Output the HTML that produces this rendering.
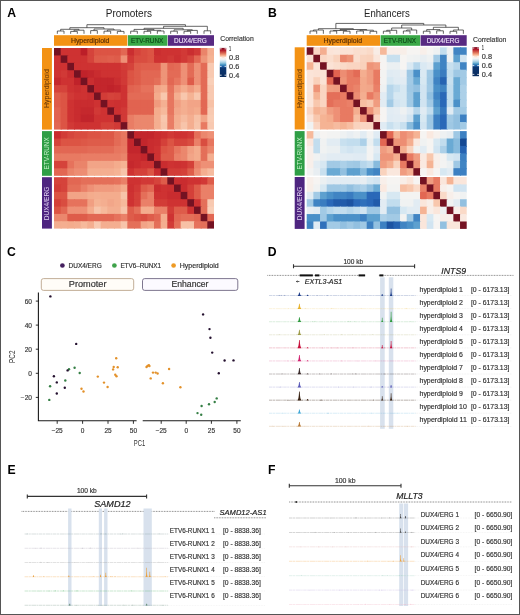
<!DOCTYPE html><html><head><meta charset="utf-8"><style>html,body{margin:0;padding:0;background:#fff;}svg{display:block;will-change:transform;}</style></head><body><svg width="520" height="615" viewBox="0 0 520 615" font-family='"Liberation Sans", sans-serif'>
<rect x="0" y="0" width="520" height="615" fill="#ffffff"/>
<rect x="54.00" y="35.2" width="73.30" height="10.6" fill="#F39214"/>
<rect x="127.90" y="35.2" width="39.50" height="10.6" fill="#3AA847"/>
<rect x="167.90" y="35.2" width="46.10" height="10.6" fill="#582A82"/>
<text x="70.90" y="43.20" font-size="7.4" fill="#5a2e04" textLength="38.50" lengthAdjust="spacingAndGlyphs" stroke="#5a2e04" stroke-width="0.18">Hyperdiploid</text>
<text x="131.10" y="43.30" font-size="7.3" fill="#0d4a18" textLength="32.20" lengthAdjust="spacingAndGlyphs" stroke="#0d4a18" stroke-width="0.18">ETV-RUNX</text>
<text x="174.00" y="43.20" font-size="7.3" fill="#e8dcf4" textLength="32.80" lengthAdjust="spacingAndGlyphs" stroke="#e8dcf4" stroke-width="0.18">DUX4/ERG</text>
<rect x="42.00" y="48.00" width="9.9" height="81.60" fill="#F39214"/>
<rect x="42.00" y="131.10" width="9.9" height="44.70" fill="#2f9e46"/>
<rect x="42.00" y="177.20" width="9.9" height="51.40" fill="#4e2580"/>
<text transform="translate(49.00,88.60) rotate(-90)" x="0" y="0" font-size="7.3" fill="#5a2e04" text-anchor="middle" textLength="38.80" lengthAdjust="spacingAndGlyphs">Hyperdiploid</text>
<text transform="translate(49.10,153.40) rotate(-90)" x="0" y="0" font-size="7.2" fill="#c4f0c8" text-anchor="middle" textLength="32.10" lengthAdjust="spacingAndGlyphs">ETV-RUNX</text>
<text transform="translate(48.80,203.50) rotate(-90)" x="0" y="0" font-size="7.2" fill="#e0d2f0" text-anchor="middle" textLength="33.50" lengthAdjust="spacingAndGlyphs">DUX4/ERG</text>
<g>
<rect x="54.00" y="48.00" width="7.67" height="8.42" fill="#741222"/>
<rect x="60.67" y="48.00" width="7.67" height="8.42" fill="#ce3232"/>
<rect x="67.33" y="48.00" width="7.67" height="8.42" fill="#ce3232"/>
<rect x="74.00" y="48.00" width="7.67" height="8.42" fill="#ce3232"/>
<rect x="80.67" y="48.00" width="7.67" height="8.42" fill="#bc1e28"/>
<rect x="87.33" y="48.00" width="7.67" height="8.42" fill="#d5433b"/>
<rect x="94.00" y="48.00" width="7.67" height="8.42" fill="#dc5444"/>
<rect x="100.67" y="48.00" width="7.67" height="8.42" fill="#dc5444"/>
<rect x="107.33" y="48.00" width="7.67" height="8.42" fill="#dc5444"/>
<rect x="114.00" y="48.00" width="7.67" height="8.42" fill="#dc5444"/>
<rect x="120.67" y="48.00" width="7.67" height="8.42" fill="#e26753"/>
<rect x="127.33" y="48.00" width="7.67" height="8.42" fill="#ca2e30"/>
<rect x="134.00" y="48.00" width="7.67" height="8.42" fill="#d5433b"/>
<rect x="140.67" y="48.00" width="7.67" height="8.42" fill="#d94d40"/>
<rect x="147.33" y="48.00" width="7.67" height="8.42" fill="#dc5444"/>
<rect x="154.00" y="48.00" width="7.67" height="8.42" fill="#ca2e30"/>
<rect x="160.67" y="48.00" width="7.67" height="8.42" fill="#ce3232"/>
<rect x="167.33" y="48.00" width="7.67" height="8.42" fill="#ce3232"/>
<rect x="174.00" y="48.00" width="7.67" height="8.42" fill="#ce3232"/>
<rect x="180.67" y="48.00" width="7.67" height="8.42" fill="#d13936"/>
<rect x="187.33" y="48.00" width="7.67" height="8.42" fill="#ca2e30"/>
<rect x="194.00" y="48.00" width="7.67" height="8.42" fill="#d13936"/>
<rect x="200.67" y="48.00" width="7.67" height="8.42" fill="#ea846a"/>
<rect x="207.33" y="48.00" width="6.67" height="8.42" fill="#f4ae90"/>
<rect x="54.00" y="55.42" width="7.67" height="8.42" fill="#ce3232"/>
<rect x="60.67" y="55.42" width="7.67" height="8.42" fill="#741222"/>
<rect x="67.33" y="55.42" width="7.67" height="8.42" fill="#ce3232"/>
<rect x="74.00" y="55.42" width="7.67" height="8.42" fill="#ce3232"/>
<rect x="80.67" y="55.42" width="7.67" height="8.42" fill="#ce3232"/>
<rect x="87.33" y="55.42" width="7.67" height="8.42" fill="#d5433b"/>
<rect x="94.00" y="55.42" width="7.67" height="8.42" fill="#de5c4a"/>
<rect x="100.67" y="55.42" width="7.67" height="8.42" fill="#de5c4a"/>
<rect x="107.33" y="55.42" width="7.67" height="8.42" fill="#e05f4d"/>
<rect x="114.00" y="55.42" width="7.67" height="8.42" fill="#de5c4a"/>
<rect x="120.67" y="55.42" width="7.67" height="8.42" fill="#ee9076"/>
<rect x="127.33" y="55.42" width="7.67" height="8.42" fill="#d13936"/>
<rect x="134.00" y="55.42" width="7.67" height="8.42" fill="#d94d40"/>
<rect x="140.67" y="55.42" width="7.67" height="8.42" fill="#d94d40"/>
<rect x="147.33" y="55.42" width="7.67" height="8.42" fill="#dc5444"/>
<rect x="154.00" y="55.42" width="7.67" height="8.42" fill="#ce3232"/>
<rect x="160.67" y="55.42" width="7.67" height="8.42" fill="#ce3232"/>
<rect x="167.33" y="55.42" width="7.67" height="8.42" fill="#d13936"/>
<rect x="174.00" y="55.42" width="7.67" height="8.42" fill="#cc3031"/>
<rect x="180.67" y="55.42" width="7.67" height="8.42" fill="#d13936"/>
<rect x="187.33" y="55.42" width="7.67" height="8.42" fill="#d6463d"/>
<rect x="194.00" y="55.42" width="7.67" height="8.42" fill="#e26753"/>
<rect x="200.67" y="55.42" width="7.67" height="8.42" fill="#ee9478"/>
<rect x="207.33" y="55.42" width="6.67" height="8.42" fill="#f5b394"/>
<rect x="54.00" y="62.84" width="7.67" height="8.42" fill="#ce3232"/>
<rect x="60.67" y="62.84" width="7.67" height="8.42" fill="#ce3232"/>
<rect x="67.33" y="62.84" width="7.67" height="8.42" fill="#741222"/>
<rect x="74.00" y="62.84" width="7.67" height="8.42" fill="#ce3232"/>
<rect x="80.67" y="62.84" width="7.67" height="8.42" fill="#ce3232"/>
<rect x="87.33" y="62.84" width="7.67" height="8.42" fill="#ce3232"/>
<rect x="94.00" y="62.84" width="7.67" height="8.42" fill="#ce3232"/>
<rect x="100.67" y="62.84" width="7.67" height="8.42" fill="#ce3232"/>
<rect x="107.33" y="62.84" width="7.67" height="8.42" fill="#ce3232"/>
<rect x="114.00" y="62.84" width="7.67" height="8.42" fill="#ce3232"/>
<rect x="120.67" y="62.84" width="7.67" height="8.42" fill="#d23c37"/>
<rect x="127.33" y="62.84" width="7.67" height="8.42" fill="#d5433b"/>
<rect x="134.00" y="62.84" width="7.67" height="8.42" fill="#de5c4a"/>
<rect x="140.67" y="62.84" width="7.67" height="8.42" fill="#e05f4d"/>
<rect x="147.33" y="62.84" width="7.67" height="8.42" fill="#e05f4d"/>
<rect x="154.00" y="62.84" width="7.67" height="8.42" fill="#e05f4d"/>
<rect x="160.67" y="62.84" width="7.67" height="8.42" fill="#ee9478"/>
<rect x="167.33" y="62.84" width="7.67" height="8.42" fill="#e26753"/>
<rect x="174.00" y="62.84" width="7.67" height="8.42" fill="#e36b56"/>
<rect x="180.67" y="62.84" width="7.67" height="8.42" fill="#ee9076"/>
<rect x="187.33" y="62.84" width="7.67" height="8.42" fill="#e36b56"/>
<rect x="194.00" y="62.84" width="7.67" height="8.42" fill="#ee9076"/>
<rect x="200.67" y="62.84" width="7.67" height="8.42" fill="#e36b56"/>
<rect x="207.33" y="62.84" width="6.67" height="8.42" fill="#f8c9b1"/>
<rect x="54.00" y="70.25" width="7.67" height="8.42" fill="#ce3232"/>
<rect x="60.67" y="70.25" width="7.67" height="8.42" fill="#d13936"/>
<rect x="67.33" y="70.25" width="7.67" height="8.42" fill="#c92c2f"/>
<rect x="74.00" y="70.25" width="7.67" height="8.42" fill="#741222"/>
<rect x="80.67" y="70.25" width="7.67" height="8.42" fill="#c0222a"/>
<rect x="87.33" y="70.25" width="7.67" height="8.42" fill="#c3262c"/>
<rect x="94.00" y="70.25" width="7.67" height="8.42" fill="#c92c2f"/>
<rect x="100.67" y="70.25" width="7.67" height="8.42" fill="#ce3232"/>
<rect x="107.33" y="70.25" width="7.67" height="8.42" fill="#ce3232"/>
<rect x="114.00" y="70.25" width="7.67" height="8.42" fill="#ce3232"/>
<rect x="120.67" y="70.25" width="7.67" height="8.42" fill="#d13936"/>
<rect x="127.33" y="70.25" width="7.67" height="8.42" fill="#dc5444"/>
<rect x="134.00" y="70.25" width="7.67" height="8.42" fill="#de5c4a"/>
<rect x="140.67" y="70.25" width="7.67" height="8.42" fill="#e26753"/>
<rect x="147.33" y="70.25" width="7.67" height="8.42" fill="#e26753"/>
<rect x="154.00" y="70.25" width="7.67" height="8.42" fill="#e26753"/>
<rect x="160.67" y="70.25" width="7.67" height="8.42" fill="#ee9478"/>
<rect x="167.33" y="70.25" width="7.67" height="8.42" fill="#e36b56"/>
<rect x="174.00" y="70.25" width="7.67" height="8.42" fill="#e36b56"/>
<rect x="180.67" y="70.25" width="7.67" height="8.42" fill="#ee9076"/>
<rect x="187.33" y="70.25" width="7.67" height="8.42" fill="#e36b56"/>
<rect x="194.00" y="70.25" width="7.67" height="8.42" fill="#ee9076"/>
<rect x="200.67" y="70.25" width="7.67" height="8.42" fill="#e36b56"/>
<rect x="207.33" y="70.25" width="6.67" height="8.42" fill="#f8c9b1"/>
<rect x="54.00" y="77.67" width="7.67" height="8.42" fill="#c5282d"/>
<rect x="60.67" y="77.67" width="7.67" height="8.42" fill="#ce3232"/>
<rect x="67.33" y="77.67" width="7.67" height="8.42" fill="#ce3232"/>
<rect x="74.00" y="77.67" width="7.67" height="8.42" fill="#c0222a"/>
<rect x="80.67" y="77.67" width="7.67" height="8.42" fill="#741222"/>
<rect x="87.33" y="77.67" width="7.67" height="8.42" fill="#ca2e30"/>
<rect x="94.00" y="77.67" width="7.67" height="8.42" fill="#c3262c"/>
<rect x="100.67" y="77.67" width="7.67" height="8.42" fill="#c3262c"/>
<rect x="107.33" y="77.67" width="7.67" height="8.42" fill="#c3262c"/>
<rect x="114.00" y="77.67" width="7.67" height="8.42" fill="#ca2e30"/>
<rect x="120.67" y="77.67" width="7.67" height="8.42" fill="#d13936"/>
<rect x="127.33" y="77.67" width="7.67" height="8.42" fill="#dc5444"/>
<rect x="134.00" y="77.67" width="7.67" height="8.42" fill="#de5c4a"/>
<rect x="140.67" y="77.67" width="7.67" height="8.42" fill="#e26753"/>
<rect x="147.33" y="77.67" width="7.67" height="8.42" fill="#e26753"/>
<rect x="154.00" y="77.67" width="7.67" height="8.42" fill="#e46f59"/>
<rect x="160.67" y="77.67" width="7.67" height="8.42" fill="#ee9478"/>
<rect x="167.33" y="77.67" width="7.67" height="8.42" fill="#e26753"/>
<rect x="174.00" y="77.67" width="7.67" height="8.42" fill="#e7765f"/>
<rect x="180.67" y="77.67" width="7.67" height="8.42" fill="#ee9076"/>
<rect x="187.33" y="77.67" width="7.67" height="8.42" fill="#de5c4a"/>
<rect x="194.00" y="77.67" width="7.67" height="8.42" fill="#ee9076"/>
<rect x="200.67" y="77.67" width="7.67" height="8.42" fill="#e36b56"/>
<rect x="207.33" y="77.67" width="6.67" height="8.42" fill="#f9cfb8"/>
<rect x="54.00" y="85.09" width="7.67" height="8.42" fill="#d5433b"/>
<rect x="60.67" y="85.09" width="7.67" height="8.42" fill="#d5433b"/>
<rect x="67.33" y="85.09" width="7.67" height="8.42" fill="#ce3232"/>
<rect x="74.00" y="85.09" width="7.67" height="8.42" fill="#ca2e30"/>
<rect x="80.67" y="85.09" width="7.67" height="8.42" fill="#ce3232"/>
<rect x="87.33" y="85.09" width="7.67" height="8.42" fill="#741222"/>
<rect x="94.00" y="85.09" width="7.67" height="8.42" fill="#c3262c"/>
<rect x="100.67" y="85.09" width="7.67" height="8.42" fill="#c3262c"/>
<rect x="107.33" y="85.09" width="7.67" height="8.42" fill="#c0222a"/>
<rect x="114.00" y="85.09" width="7.67" height="8.42" fill="#c3262c"/>
<rect x="120.67" y="85.09" width="7.67" height="8.42" fill="#ce3232"/>
<rect x="127.33" y="85.09" width="7.67" height="8.42" fill="#e16350"/>
<rect x="134.00" y="85.09" width="7.67" height="8.42" fill="#e26753"/>
<rect x="140.67" y="85.09" width="7.67" height="8.42" fill="#e6725c"/>
<rect x="147.33" y="85.09" width="7.67" height="8.42" fill="#e6725c"/>
<rect x="154.00" y="85.09" width="7.67" height="8.42" fill="#f2a487"/>
<rect x="160.67" y="85.09" width="7.67" height="8.42" fill="#f4ac8d"/>
<rect x="167.33" y="85.09" width="7.67" height="8.42" fill="#e6725c"/>
<rect x="174.00" y="85.09" width="7.67" height="8.42" fill="#f09a7e"/>
<rect x="180.67" y="85.09" width="7.67" height="8.42" fill="#f4ac8d"/>
<rect x="187.33" y="85.09" width="7.67" height="8.42" fill="#f09a7e"/>
<rect x="194.00" y="85.09" width="7.67" height="8.42" fill="#f4ac8d"/>
<rect x="200.67" y="85.09" width="7.67" height="8.42" fill="#e36b56"/>
<rect x="207.33" y="85.09" width="6.67" height="8.42" fill="#f8c9b1"/>
<rect x="54.00" y="92.51" width="7.67" height="8.42" fill="#de5c4a"/>
<rect x="60.67" y="92.51" width="7.67" height="8.42" fill="#dc5444"/>
<rect x="67.33" y="92.51" width="7.67" height="8.42" fill="#d13936"/>
<rect x="74.00" y="92.51" width="7.67" height="8.42" fill="#ce3232"/>
<rect x="80.67" y="92.51" width="7.67" height="8.42" fill="#ce3232"/>
<rect x="87.33" y="92.51" width="7.67" height="8.42" fill="#ca2e30"/>
<rect x="94.00" y="92.51" width="7.67" height="8.42" fill="#741222"/>
<rect x="100.67" y="92.51" width="7.67" height="8.42" fill="#d23c37"/>
<rect x="107.33" y="92.51" width="7.67" height="8.42" fill="#d5433b"/>
<rect x="114.00" y="92.51" width="7.67" height="8.42" fill="#d44039"/>
<rect x="120.67" y="92.51" width="7.67" height="8.42" fill="#ce3232"/>
<rect x="127.33" y="92.51" width="7.67" height="8.42" fill="#e36b56"/>
<rect x="134.00" y="92.51" width="7.67" height="8.42" fill="#e36b56"/>
<rect x="140.67" y="92.51" width="7.67" height="8.42" fill="#e36b56"/>
<rect x="147.33" y="92.51" width="7.67" height="8.42" fill="#e36b56"/>
<rect x="154.00" y="92.51" width="7.67" height="8.42" fill="#f4ac8d"/>
<rect x="160.67" y="92.51" width="7.67" height="8.42" fill="#f8c7ad"/>
<rect x="167.33" y="92.51" width="7.67" height="8.42" fill="#e7765f"/>
<rect x="174.00" y="92.51" width="7.67" height="8.42" fill="#f4ae90"/>
<rect x="180.67" y="92.51" width="7.67" height="8.42" fill="#f8c7ad"/>
<rect x="187.33" y="92.51" width="7.67" height="8.42" fill="#f5b394"/>
<rect x="194.00" y="92.51" width="7.67" height="8.42" fill="#f8c7ad"/>
<rect x="200.67" y="92.51" width="7.67" height="8.42" fill="#e36b56"/>
<rect x="207.33" y="92.51" width="6.67" height="8.42" fill="#f8c9b1"/>
<rect x="54.00" y="99.93" width="7.67" height="8.42" fill="#de5c4a"/>
<rect x="60.67" y="99.93" width="7.67" height="8.42" fill="#dc5444"/>
<rect x="67.33" y="99.93" width="7.67" height="8.42" fill="#ce3232"/>
<rect x="74.00" y="99.93" width="7.67" height="8.42" fill="#c92c2f"/>
<rect x="80.67" y="99.93" width="7.67" height="8.42" fill="#c92c2f"/>
<rect x="87.33" y="99.93" width="7.67" height="8.42" fill="#c92c2f"/>
<rect x="94.00" y="99.93" width="7.67" height="8.42" fill="#ce3232"/>
<rect x="100.67" y="99.93" width="7.67" height="8.42" fill="#741222"/>
<rect x="107.33" y="99.93" width="7.67" height="8.42" fill="#ce3232"/>
<rect x="114.00" y="99.93" width="7.67" height="8.42" fill="#cc3031"/>
<rect x="120.67" y="99.93" width="7.67" height="8.42" fill="#ce3232"/>
<rect x="127.33" y="99.93" width="7.67" height="8.42" fill="#e16350"/>
<rect x="134.00" y="99.93" width="7.67" height="8.42" fill="#e16350"/>
<rect x="140.67" y="99.93" width="7.67" height="8.42" fill="#e16350"/>
<rect x="147.33" y="99.93" width="7.67" height="8.42" fill="#e16350"/>
<rect x="154.00" y="99.93" width="7.67" height="8.42" fill="#f09a7e"/>
<rect x="160.67" y="99.93" width="7.67" height="8.42" fill="#f4b092"/>
<rect x="167.33" y="99.93" width="7.67" height="8.42" fill="#e7765f"/>
<rect x="174.00" y="99.93" width="7.67" height="8.42" fill="#f19f82"/>
<rect x="180.67" y="99.93" width="7.67" height="8.42" fill="#f4ae90"/>
<rect x="187.33" y="99.93" width="7.67" height="8.42" fill="#f2a487"/>
<rect x="194.00" y="99.93" width="7.67" height="8.42" fill="#f2a487"/>
<rect x="200.67" y="99.93" width="7.67" height="8.42" fill="#e26753"/>
<rect x="207.33" y="99.93" width="6.67" height="8.42" fill="#f7c1a6"/>
<rect x="54.00" y="107.35" width="7.67" height="8.42" fill="#e16350"/>
<rect x="60.67" y="107.35" width="7.67" height="8.42" fill="#dc5444"/>
<rect x="67.33" y="107.35" width="7.67" height="8.42" fill="#ce3232"/>
<rect x="74.00" y="107.35" width="7.67" height="8.42" fill="#c92c2f"/>
<rect x="80.67" y="107.35" width="7.67" height="8.42" fill="#c5282d"/>
<rect x="87.33" y="107.35" width="7.67" height="8.42" fill="#c5282d"/>
<rect x="94.00" y="107.35" width="7.67" height="8.42" fill="#d13936"/>
<rect x="100.67" y="107.35" width="7.67" height="8.42" fill="#ce3232"/>
<rect x="107.33" y="107.35" width="7.67" height="8.42" fill="#741222"/>
<rect x="114.00" y="107.35" width="7.67" height="8.42" fill="#cc3031"/>
<rect x="120.67" y="107.35" width="7.67" height="8.42" fill="#d13936"/>
<rect x="127.33" y="107.35" width="7.67" height="8.42" fill="#e16350"/>
<rect x="134.00" y="107.35" width="7.67" height="8.42" fill="#e16350"/>
<rect x="140.67" y="107.35" width="7.67" height="8.42" fill="#e16350"/>
<rect x="147.33" y="107.35" width="7.67" height="8.42" fill="#e16350"/>
<rect x="154.00" y="107.35" width="7.67" height="8.42" fill="#f4ac8d"/>
<rect x="160.67" y="107.35" width="7.67" height="8.42" fill="#f6b99b"/>
<rect x="167.33" y="107.35" width="7.67" height="8.42" fill="#e7765f"/>
<rect x="174.00" y="107.35" width="7.67" height="8.42" fill="#f2a689"/>
<rect x="180.67" y="107.35" width="7.67" height="8.42" fill="#f4ae90"/>
<rect x="187.33" y="107.35" width="7.67" height="8.42" fill="#f2a689"/>
<rect x="194.00" y="107.35" width="7.67" height="8.42" fill="#f4ac8d"/>
<rect x="200.67" y="107.35" width="7.67" height="8.42" fill="#e26753"/>
<rect x="207.33" y="107.35" width="6.67" height="8.42" fill="#f8c9b1"/>
<rect x="54.00" y="114.76" width="7.67" height="8.42" fill="#e16350"/>
<rect x="60.67" y="114.76" width="7.67" height="8.42" fill="#dc5444"/>
<rect x="67.33" y="114.76" width="7.67" height="8.42" fill="#ce3232"/>
<rect x="74.00" y="114.76" width="7.67" height="8.42" fill="#c92c2f"/>
<rect x="80.67" y="114.76" width="7.67" height="8.42" fill="#c1242b"/>
<rect x="87.33" y="114.76" width="7.67" height="8.42" fill="#c1242b"/>
<rect x="94.00" y="114.76" width="7.67" height="8.42" fill="#ce3232"/>
<rect x="100.67" y="114.76" width="7.67" height="8.42" fill="#ce3232"/>
<rect x="107.33" y="114.76" width="7.67" height="8.42" fill="#ce3232"/>
<rect x="114.00" y="114.76" width="7.67" height="8.42" fill="#741222"/>
<rect x="120.67" y="114.76" width="7.67" height="8.42" fill="#d13936"/>
<rect x="127.33" y="114.76" width="7.67" height="8.42" fill="#e97d65"/>
<rect x="134.00" y="114.76" width="7.67" height="8.42" fill="#eb876d"/>
<rect x="140.67" y="114.76" width="7.67" height="8.42" fill="#eb876d"/>
<rect x="147.33" y="114.76" width="7.67" height="8.42" fill="#eb876d"/>
<rect x="154.00" y="114.76" width="7.67" height="8.42" fill="#f4ae90"/>
<rect x="160.67" y="114.76" width="7.67" height="8.42" fill="#f8c7ad"/>
<rect x="167.33" y="114.76" width="7.67" height="8.42" fill="#e97d65"/>
<rect x="174.00" y="114.76" width="7.67" height="8.42" fill="#f4ae90"/>
<rect x="180.67" y="114.76" width="7.67" height="8.42" fill="#f6bb9f"/>
<rect x="187.33" y="114.76" width="7.67" height="8.42" fill="#f4ae90"/>
<rect x="194.00" y="114.76" width="7.67" height="8.42" fill="#f7c1a6"/>
<rect x="200.67" y="114.76" width="7.67" height="8.42" fill="#f2a487"/>
<rect x="207.33" y="114.76" width="6.67" height="8.42" fill="#f9ccb4"/>
<rect x="54.00" y="122.18" width="7.67" height="7.42" fill="#e26753"/>
<rect x="60.67" y="122.18" width="7.67" height="7.42" fill="#dc5444"/>
<rect x="67.33" y="122.18" width="7.67" height="7.42" fill="#d13936"/>
<rect x="74.00" y="122.18" width="7.67" height="7.42" fill="#ce3232"/>
<rect x="80.67" y="122.18" width="7.67" height="7.42" fill="#ce3232"/>
<rect x="87.33" y="122.18" width="7.67" height="7.42" fill="#ce3232"/>
<rect x="94.00" y="122.18" width="7.67" height="7.42" fill="#ce3232"/>
<rect x="100.67" y="122.18" width="7.67" height="7.42" fill="#d44039"/>
<rect x="107.33" y="122.18" width="7.67" height="7.42" fill="#d44039"/>
<rect x="114.00" y="122.18" width="7.67" height="7.42" fill="#d13936"/>
<rect x="120.67" y="122.18" width="7.67" height="7.42" fill="#741222"/>
<rect x="127.33" y="122.18" width="7.67" height="7.42" fill="#e97d65"/>
<rect x="134.00" y="122.18" width="7.67" height="7.42" fill="#eb876d"/>
<rect x="140.67" y="122.18" width="7.67" height="7.42" fill="#eb876d"/>
<rect x="147.33" y="122.18" width="7.67" height="7.42" fill="#eb876d"/>
<rect x="154.00" y="122.18" width="7.67" height="7.42" fill="#f4ae90"/>
<rect x="160.67" y="122.18" width="7.67" height="7.42" fill="#f7c4aa"/>
<rect x="167.33" y="122.18" width="7.67" height="7.42" fill="#e97d65"/>
<rect x="174.00" y="122.18" width="7.67" height="7.42" fill="#f4b092"/>
<rect x="180.67" y="122.18" width="7.67" height="7.42" fill="#f7c4aa"/>
<rect x="187.33" y="122.18" width="7.67" height="7.42" fill="#f4ae90"/>
<rect x="194.00" y="122.18" width="7.67" height="7.42" fill="#f7c4aa"/>
<rect x="200.67" y="122.18" width="7.67" height="7.42" fill="#e87a62"/>
<rect x="207.33" y="122.18" width="6.67" height="7.42" fill="#f8c9b1"/>
<rect x="54.00" y="131.10" width="7.67" height="8.45" fill="#c92c2f"/>
<rect x="60.67" y="131.10" width="7.67" height="8.45" fill="#d23c37"/>
<rect x="67.33" y="131.10" width="7.67" height="8.45" fill="#d6463d"/>
<rect x="74.00" y="131.10" width="7.67" height="8.45" fill="#d94d40"/>
<rect x="80.67" y="131.10" width="7.67" height="8.45" fill="#d94d40"/>
<rect x="87.33" y="131.10" width="7.67" height="8.45" fill="#dc5444"/>
<rect x="94.00" y="131.10" width="7.67" height="8.45" fill="#dc5444"/>
<rect x="100.67" y="131.10" width="7.67" height="8.45" fill="#dd5847"/>
<rect x="107.33" y="131.10" width="7.67" height="8.45" fill="#dd5847"/>
<rect x="114.00" y="131.10" width="7.67" height="8.45" fill="#e36b56"/>
<rect x="120.67" y="131.10" width="7.67" height="8.45" fill="#e7765f"/>
<rect x="127.33" y="131.10" width="7.67" height="8.45" fill="#741222"/>
<rect x="134.00" y="131.10" width="7.67" height="8.45" fill="#c3262c"/>
<rect x="140.67" y="131.10" width="7.67" height="8.45" fill="#c3262c"/>
<rect x="147.33" y="131.10" width="7.67" height="8.45" fill="#c3262c"/>
<rect x="154.00" y="131.10" width="7.67" height="8.45" fill="#c92c2f"/>
<rect x="160.67" y="131.10" width="7.67" height="8.45" fill="#cc3031"/>
<rect x="167.33" y="131.10" width="7.67" height="8.45" fill="#d13936"/>
<rect x="174.00" y="131.10" width="7.67" height="8.45" fill="#ce3232"/>
<rect x="180.67" y="131.10" width="7.67" height="8.45" fill="#ce3232"/>
<rect x="187.33" y="131.10" width="7.67" height="8.45" fill="#d13936"/>
<rect x="194.00" y="131.10" width="7.67" height="8.45" fill="#e46f59"/>
<rect x="200.67" y="131.10" width="7.67" height="8.45" fill="#eb876d"/>
<rect x="207.33" y="131.10" width="6.67" height="8.45" fill="#ee9076"/>
<rect x="54.00" y="138.55" width="7.67" height="8.45" fill="#d5433b"/>
<rect x="60.67" y="138.55" width="7.67" height="8.45" fill="#dc5444"/>
<rect x="67.33" y="138.55" width="7.67" height="8.45" fill="#dc5444"/>
<rect x="74.00" y="138.55" width="7.67" height="8.45" fill="#dc5444"/>
<rect x="80.67" y="138.55" width="7.67" height="8.45" fill="#dd5847"/>
<rect x="87.33" y="138.55" width="7.67" height="8.45" fill="#de5c4a"/>
<rect x="94.00" y="138.55" width="7.67" height="8.45" fill="#de5c4a"/>
<rect x="100.67" y="138.55" width="7.67" height="8.45" fill="#de5c4a"/>
<rect x="107.33" y="138.55" width="7.67" height="8.45" fill="#de5c4a"/>
<rect x="114.00" y="138.55" width="7.67" height="8.45" fill="#e36b56"/>
<rect x="120.67" y="138.55" width="7.67" height="8.45" fill="#e7765f"/>
<rect x="127.33" y="138.55" width="7.67" height="8.45" fill="#c3262c"/>
<rect x="134.00" y="138.55" width="7.67" height="8.45" fill="#741222"/>
<rect x="140.67" y="138.55" width="7.67" height="8.45" fill="#c3262c"/>
<rect x="147.33" y="138.55" width="7.67" height="8.45" fill="#c92c2f"/>
<rect x="154.00" y="138.55" width="7.67" height="8.45" fill="#ca2e30"/>
<rect x="160.67" y="138.55" width="7.67" height="8.45" fill="#d44039"/>
<rect x="167.33" y="138.55" width="7.67" height="8.45" fill="#dc5444"/>
<rect x="174.00" y="138.55" width="7.67" height="8.45" fill="#d5433b"/>
<rect x="180.67" y="138.55" width="7.67" height="8.45" fill="#d5433b"/>
<rect x="187.33" y="138.55" width="7.67" height="8.45" fill="#d94d40"/>
<rect x="194.00" y="138.55" width="7.67" height="8.45" fill="#ea8068"/>
<rect x="200.67" y="138.55" width="7.67" height="8.45" fill="#d94d40"/>
<rect x="207.33" y="138.55" width="6.67" height="8.45" fill="#e7765f"/>
<rect x="54.00" y="146.00" width="7.67" height="8.45" fill="#e26753"/>
<rect x="60.67" y="146.00" width="7.67" height="8.45" fill="#e26753"/>
<rect x="67.33" y="146.00" width="7.67" height="8.45" fill="#e26753"/>
<rect x="74.00" y="146.00" width="7.67" height="8.45" fill="#e26753"/>
<rect x="80.67" y="146.00" width="7.67" height="8.45" fill="#e26753"/>
<rect x="87.33" y="146.00" width="7.67" height="8.45" fill="#e36b56"/>
<rect x="94.00" y="146.00" width="7.67" height="8.45" fill="#e36b56"/>
<rect x="100.67" y="146.00" width="7.67" height="8.45" fill="#e36b56"/>
<rect x="107.33" y="146.00" width="7.67" height="8.45" fill="#e36b56"/>
<rect x="114.00" y="146.00" width="7.67" height="8.45" fill="#e7765f"/>
<rect x="120.67" y="146.00" width="7.67" height="8.45" fill="#e87a62"/>
<rect x="127.33" y="146.00" width="7.67" height="8.45" fill="#c3262c"/>
<rect x="134.00" y="146.00" width="7.67" height="8.45" fill="#c3262c"/>
<rect x="140.67" y="146.00" width="7.67" height="8.45" fill="#741222"/>
<rect x="147.33" y="146.00" width="7.67" height="8.45" fill="#c92c2f"/>
<rect x="154.00" y="146.00" width="7.67" height="8.45" fill="#ce3232"/>
<rect x="160.67" y="146.00" width="7.67" height="8.45" fill="#dc5444"/>
<rect x="167.33" y="146.00" width="7.67" height="8.45" fill="#de5c4a"/>
<rect x="174.00" y="146.00" width="7.67" height="8.45" fill="#e7765f"/>
<rect x="180.67" y="146.00" width="7.67" height="8.45" fill="#eb876d"/>
<rect x="187.33" y="146.00" width="7.67" height="8.45" fill="#f19f82"/>
<rect x="194.00" y="146.00" width="7.67" height="8.45" fill="#f4ac8d"/>
<rect x="200.67" y="146.00" width="7.67" height="8.45" fill="#e46f59"/>
<rect x="207.33" y="146.00" width="6.67" height="8.45" fill="#eb876d"/>
<rect x="54.00" y="153.45" width="7.67" height="8.45" fill="#e87a62"/>
<rect x="60.67" y="153.45" width="7.67" height="8.45" fill="#e87a62"/>
<rect x="67.33" y="153.45" width="7.67" height="8.45" fill="#e87a62"/>
<rect x="74.00" y="153.45" width="7.67" height="8.45" fill="#e87a62"/>
<rect x="80.67" y="153.45" width="7.67" height="8.45" fill="#e97d65"/>
<rect x="87.33" y="153.45" width="7.67" height="8.45" fill="#e97d65"/>
<rect x="94.00" y="153.45" width="7.67" height="8.45" fill="#e97d65"/>
<rect x="100.67" y="153.45" width="7.67" height="8.45" fill="#e97d65"/>
<rect x="107.33" y="153.45" width="7.67" height="8.45" fill="#e97d65"/>
<rect x="114.00" y="153.45" width="7.67" height="8.45" fill="#e97d65"/>
<rect x="120.67" y="153.45" width="7.67" height="8.45" fill="#ea846a"/>
<rect x="127.33" y="153.45" width="7.67" height="8.45" fill="#c92c2f"/>
<rect x="134.00" y="153.45" width="7.67" height="8.45" fill="#c92c2f"/>
<rect x="140.67" y="153.45" width="7.67" height="8.45" fill="#c3262c"/>
<rect x="147.33" y="153.45" width="7.67" height="8.45" fill="#741222"/>
<rect x="154.00" y="153.45" width="7.67" height="8.45" fill="#ce3232"/>
<rect x="160.67" y="153.45" width="7.67" height="8.45" fill="#de5c4a"/>
<rect x="167.33" y="153.45" width="7.67" height="8.45" fill="#de5c4a"/>
<rect x="174.00" y="153.45" width="7.67" height="8.45" fill="#ea8068"/>
<rect x="180.67" y="153.45" width="7.67" height="8.45" fill="#eb876d"/>
<rect x="187.33" y="153.45" width="7.67" height="8.45" fill="#f2a487"/>
<rect x="194.00" y="153.45" width="7.67" height="8.45" fill="#f4ac8d"/>
<rect x="200.67" y="153.45" width="7.67" height="8.45" fill="#e46f59"/>
<rect x="207.33" y="153.45" width="6.67" height="8.45" fill="#f4ae90"/>
<rect x="54.00" y="160.90" width="7.67" height="8.45" fill="#d5433b"/>
<rect x="60.67" y="160.90" width="7.67" height="8.45" fill="#d5433b"/>
<rect x="67.33" y="160.90" width="7.67" height="8.45" fill="#e6725c"/>
<rect x="74.00" y="160.90" width="7.67" height="8.45" fill="#ea846a"/>
<rect x="80.67" y="160.90" width="7.67" height="8.45" fill="#ea846a"/>
<rect x="87.33" y="160.90" width="7.67" height="8.45" fill="#f2a487"/>
<rect x="94.00" y="160.90" width="7.67" height="8.45" fill="#f2a487"/>
<rect x="100.67" y="160.90" width="7.67" height="8.45" fill="#f2a487"/>
<rect x="107.33" y="160.90" width="7.67" height="8.45" fill="#f2a487"/>
<rect x="114.00" y="160.90" width="7.67" height="8.45" fill="#f4ac8d"/>
<rect x="120.67" y="160.90" width="7.67" height="8.45" fill="#f5b394"/>
<rect x="127.33" y="160.90" width="7.67" height="8.45" fill="#c5282d"/>
<rect x="134.00" y="160.90" width="7.67" height="8.45" fill="#c92c2f"/>
<rect x="140.67" y="160.90" width="7.67" height="8.45" fill="#ce3232"/>
<rect x="147.33" y="160.90" width="7.67" height="8.45" fill="#ce3232"/>
<rect x="154.00" y="160.90" width="7.67" height="8.45" fill="#741222"/>
<rect x="160.67" y="160.90" width="7.67" height="8.45" fill="#c92c2f"/>
<rect x="167.33" y="160.90" width="7.67" height="8.45" fill="#ce3232"/>
<rect x="174.00" y="160.90" width="7.67" height="8.45" fill="#cc3031"/>
<rect x="180.67" y="160.90" width="7.67" height="8.45" fill="#ce3232"/>
<rect x="187.33" y="160.90" width="7.67" height="8.45" fill="#d44039"/>
<rect x="194.00" y="160.90" width="7.67" height="8.45" fill="#ea8068"/>
<rect x="200.67" y="160.90" width="7.67" height="8.45" fill="#ee9076"/>
<rect x="207.33" y="160.90" width="6.67" height="8.45" fill="#ee9076"/>
<rect x="54.00" y="168.35" width="7.67" height="7.45" fill="#e26753"/>
<rect x="60.67" y="168.35" width="7.67" height="7.45" fill="#e26753"/>
<rect x="67.33" y="168.35" width="7.67" height="7.45" fill="#ea846a"/>
<rect x="74.00" y="168.35" width="7.67" height="7.45" fill="#ed8d73"/>
<rect x="80.67" y="168.35" width="7.67" height="7.45" fill="#ed8d73"/>
<rect x="87.33" y="168.35" width="7.67" height="7.45" fill="#f4ae90"/>
<rect x="94.00" y="168.35" width="7.67" height="7.45" fill="#f4ae90"/>
<rect x="100.67" y="168.35" width="7.67" height="7.45" fill="#f4ae90"/>
<rect x="107.33" y="168.35" width="7.67" height="7.45" fill="#f4ae90"/>
<rect x="114.00" y="168.35" width="7.67" height="7.45" fill="#f5b394"/>
<rect x="120.67" y="168.35" width="7.67" height="7.45" fill="#f7c4aa"/>
<rect x="127.33" y="168.35" width="7.67" height="7.45" fill="#ce3232"/>
<rect x="134.00" y="168.35" width="7.67" height="7.45" fill="#d44039"/>
<rect x="140.67" y="168.35" width="7.67" height="7.45" fill="#d44039"/>
<rect x="147.33" y="168.35" width="7.67" height="7.45" fill="#dc5444"/>
<rect x="154.00" y="168.35" width="7.67" height="7.45" fill="#c92c2f"/>
<rect x="160.67" y="168.35" width="7.67" height="7.45" fill="#741222"/>
<rect x="167.33" y="168.35" width="7.67" height="7.45" fill="#d23c37"/>
<rect x="174.00" y="168.35" width="7.67" height="7.45" fill="#d23c37"/>
<rect x="180.67" y="168.35" width="7.67" height="7.45" fill="#d44039"/>
<rect x="187.33" y="168.35" width="7.67" height="7.45" fill="#de5c4a"/>
<rect x="194.00" y="168.35" width="7.67" height="7.45" fill="#ed8d73"/>
<rect x="200.67" y="168.35" width="7.67" height="7.45" fill="#f4ae90"/>
<rect x="207.33" y="168.35" width="6.67" height="7.45" fill="#f6bb9f"/>
<rect x="54.00" y="177.20" width="7.67" height="8.34" fill="#d5433b"/>
<rect x="60.67" y="177.20" width="7.67" height="8.34" fill="#d5433b"/>
<rect x="67.33" y="177.20" width="7.67" height="8.34" fill="#e26753"/>
<rect x="74.00" y="177.20" width="7.67" height="8.34" fill="#e26753"/>
<rect x="80.67" y="177.20" width="7.67" height="8.34" fill="#e46f59"/>
<rect x="87.33" y="177.20" width="7.67" height="8.34" fill="#e46f59"/>
<rect x="94.00" y="177.20" width="7.67" height="8.34" fill="#e46f59"/>
<rect x="100.67" y="177.20" width="7.67" height="8.34" fill="#e46f59"/>
<rect x="107.33" y="177.20" width="7.67" height="8.34" fill="#e46f59"/>
<rect x="114.00" y="177.20" width="7.67" height="8.34" fill="#e6725c"/>
<rect x="120.67" y="177.20" width="7.67" height="8.34" fill="#ea8068"/>
<rect x="127.33" y="177.20" width="7.67" height="8.34" fill="#ce3232"/>
<rect x="134.00" y="177.20" width="7.67" height="8.34" fill="#ce3232"/>
<rect x="140.67" y="177.20" width="7.67" height="8.34" fill="#d13936"/>
<rect x="147.33" y="177.20" width="7.67" height="8.34" fill="#d13936"/>
<rect x="154.00" y="177.20" width="7.67" height="8.34" fill="#d5433b"/>
<rect x="160.67" y="177.20" width="7.67" height="8.34" fill="#de5c4a"/>
<rect x="167.33" y="177.20" width="7.67" height="8.34" fill="#741222"/>
<rect x="174.00" y="177.20" width="7.67" height="8.34" fill="#ca2e30"/>
<rect x="180.67" y="177.20" width="7.67" height="8.34" fill="#c92c2f"/>
<rect x="187.33" y="177.20" width="7.67" height="8.34" fill="#ce3232"/>
<rect x="194.00" y="177.20" width="7.67" height="8.34" fill="#ce3232"/>
<rect x="200.67" y="177.20" width="7.67" height="8.34" fill="#d13936"/>
<rect x="207.33" y="177.20" width="6.67" height="8.34" fill="#de5c4a"/>
<rect x="54.00" y="184.54" width="7.67" height="8.34" fill="#d23c37"/>
<rect x="60.67" y="184.54" width="7.67" height="8.34" fill="#d5433b"/>
<rect x="67.33" y="184.54" width="7.67" height="8.34" fill="#e46f59"/>
<rect x="74.00" y="184.54" width="7.67" height="8.34" fill="#e46f59"/>
<rect x="80.67" y="184.54" width="7.67" height="8.34" fill="#ea8068"/>
<rect x="87.33" y="184.54" width="7.67" height="8.34" fill="#ee9076"/>
<rect x="94.00" y="184.54" width="7.67" height="8.34" fill="#f09a7e"/>
<rect x="100.67" y="184.54" width="7.67" height="8.34" fill="#f09a7e"/>
<rect x="107.33" y="184.54" width="7.67" height="8.34" fill="#f09a7e"/>
<rect x="114.00" y="184.54" width="7.67" height="8.34" fill="#f19f82"/>
<rect x="120.67" y="184.54" width="7.67" height="8.34" fill="#f4ac8d"/>
<rect x="127.33" y="184.54" width="7.67" height="8.34" fill="#cc3031"/>
<rect x="134.00" y="184.54" width="7.67" height="8.34" fill="#d13936"/>
<rect x="140.67" y="184.54" width="7.67" height="8.34" fill="#de5c4a"/>
<rect x="147.33" y="184.54" width="7.67" height="8.34" fill="#e26753"/>
<rect x="154.00" y="184.54" width="7.67" height="8.34" fill="#c92c2f"/>
<rect x="160.67" y="184.54" width="7.67" height="8.34" fill="#ce3232"/>
<rect x="167.33" y="184.54" width="7.67" height="8.34" fill="#cc3031"/>
<rect x="174.00" y="184.54" width="7.67" height="8.34" fill="#741222"/>
<rect x="180.67" y="184.54" width="7.67" height="8.34" fill="#c92c2f"/>
<rect x="187.33" y="184.54" width="7.67" height="8.34" fill="#d44039"/>
<rect x="194.00" y="184.54" width="7.67" height="8.34" fill="#de5c4a"/>
<rect x="200.67" y="184.54" width="7.67" height="8.34" fill="#ea8068"/>
<rect x="207.33" y="184.54" width="6.67" height="8.34" fill="#ea8068"/>
<rect x="54.00" y="191.89" width="7.67" height="8.34" fill="#dc5444"/>
<rect x="60.67" y="191.89" width="7.67" height="8.34" fill="#dc5444"/>
<rect x="67.33" y="191.89" width="7.67" height="8.34" fill="#f2a487"/>
<rect x="74.00" y="191.89" width="7.67" height="8.34" fill="#f2a487"/>
<rect x="80.67" y="191.89" width="7.67" height="8.34" fill="#f2a487"/>
<rect x="87.33" y="191.89" width="7.67" height="8.34" fill="#f4ac8d"/>
<rect x="94.00" y="191.89" width="7.67" height="8.34" fill="#f4ae90"/>
<rect x="100.67" y="191.89" width="7.67" height="8.34" fill="#f4ac8d"/>
<rect x="107.33" y="191.89" width="7.67" height="8.34" fill="#f4ac8d"/>
<rect x="114.00" y="191.89" width="7.67" height="8.34" fill="#f4ac8d"/>
<rect x="120.67" y="191.89" width="7.67" height="8.34" fill="#f7c4aa"/>
<rect x="127.33" y="191.89" width="7.67" height="8.34" fill="#ce3232"/>
<rect x="134.00" y="191.89" width="7.67" height="8.34" fill="#d44039"/>
<rect x="140.67" y="191.89" width="7.67" height="8.34" fill="#e46f59"/>
<rect x="147.33" y="191.89" width="7.67" height="8.34" fill="#ea8068"/>
<rect x="154.00" y="191.89" width="7.67" height="8.34" fill="#ce3232"/>
<rect x="160.67" y="191.89" width="7.67" height="8.34" fill="#ce3232"/>
<rect x="167.33" y="191.89" width="7.67" height="8.34" fill="#c92c2f"/>
<rect x="174.00" y="191.89" width="7.67" height="8.34" fill="#c92c2f"/>
<rect x="180.67" y="191.89" width="7.67" height="8.34" fill="#741222"/>
<rect x="187.33" y="191.89" width="7.67" height="8.34" fill="#d44039"/>
<rect x="194.00" y="191.89" width="7.67" height="8.34" fill="#de5c4a"/>
<rect x="200.67" y="191.89" width="7.67" height="8.34" fill="#ea8068"/>
<rect x="207.33" y="191.89" width="6.67" height="8.34" fill="#ea8068"/>
<rect x="54.00" y="199.23" width="7.67" height="8.34" fill="#d44039"/>
<rect x="60.67" y="199.23" width="7.67" height="8.34" fill="#d94d40"/>
<rect x="67.33" y="199.23" width="7.67" height="8.34" fill="#e6725c"/>
<rect x="74.00" y="199.23" width="7.67" height="8.34" fill="#e6725c"/>
<rect x="80.67" y="199.23" width="7.67" height="8.34" fill="#e6725c"/>
<rect x="87.33" y="199.23" width="7.67" height="8.34" fill="#f19f82"/>
<rect x="94.00" y="199.23" width="7.67" height="8.34" fill="#f5b394"/>
<rect x="100.67" y="199.23" width="7.67" height="8.34" fill="#f4ae90"/>
<rect x="107.33" y="199.23" width="7.67" height="8.34" fill="#f2a689"/>
<rect x="114.00" y="199.23" width="7.67" height="8.34" fill="#f4ac8d"/>
<rect x="120.67" y="199.23" width="7.67" height="8.34" fill="#f6b99b"/>
<rect x="127.33" y="199.23" width="7.67" height="8.34" fill="#ce3232"/>
<rect x="134.00" y="199.23" width="7.67" height="8.34" fill="#d44039"/>
<rect x="140.67" y="199.23" width="7.67" height="8.34" fill="#ea8068"/>
<rect x="147.33" y="199.23" width="7.67" height="8.34" fill="#ea8068"/>
<rect x="154.00" y="199.23" width="7.67" height="8.34" fill="#d23c37"/>
<rect x="160.67" y="199.23" width="7.67" height="8.34" fill="#d23c37"/>
<rect x="167.33" y="199.23" width="7.67" height="8.34" fill="#ce3232"/>
<rect x="174.00" y="199.23" width="7.67" height="8.34" fill="#ce3232"/>
<rect x="180.67" y="199.23" width="7.67" height="8.34" fill="#ce3232"/>
<rect x="187.33" y="199.23" width="7.67" height="8.34" fill="#741222"/>
<rect x="194.00" y="199.23" width="7.67" height="8.34" fill="#ce3232"/>
<rect x="200.67" y="199.23" width="7.67" height="8.34" fill="#e46f59"/>
<rect x="207.33" y="199.23" width="6.67" height="8.34" fill="#f8c9b1"/>
<rect x="54.00" y="206.57" width="7.67" height="8.34" fill="#dc5444"/>
<rect x="60.67" y="206.57" width="7.67" height="8.34" fill="#e26753"/>
<rect x="67.33" y="206.57" width="7.67" height="8.34" fill="#ee9076"/>
<rect x="74.00" y="206.57" width="7.67" height="8.34" fill="#ee9076"/>
<rect x="80.67" y="206.57" width="7.67" height="8.34" fill="#ee9076"/>
<rect x="87.33" y="206.57" width="7.67" height="8.34" fill="#f4ac8d"/>
<rect x="94.00" y="206.57" width="7.67" height="8.34" fill="#f7c4aa"/>
<rect x="100.67" y="206.57" width="7.67" height="8.34" fill="#f6b99b"/>
<rect x="107.33" y="206.57" width="7.67" height="8.34" fill="#f4ae90"/>
<rect x="114.00" y="206.57" width="7.67" height="8.34" fill="#f4ae90"/>
<rect x="120.67" y="206.57" width="7.67" height="8.34" fill="#f7c4aa"/>
<rect x="127.33" y="206.57" width="7.67" height="8.34" fill="#de5c4a"/>
<rect x="134.00" y="206.57" width="7.67" height="8.34" fill="#e46f59"/>
<rect x="140.67" y="206.57" width="7.67" height="8.34" fill="#f4ac8d"/>
<rect x="147.33" y="206.57" width="7.67" height="8.34" fill="#f4ac8d"/>
<rect x="154.00" y="206.57" width="7.67" height="8.34" fill="#ea8068"/>
<rect x="160.67" y="206.57" width="7.67" height="8.34" fill="#ea8068"/>
<rect x="167.33" y="206.57" width="7.67" height="8.34" fill="#d23c37"/>
<rect x="174.00" y="206.57" width="7.67" height="8.34" fill="#de5c4a"/>
<rect x="180.67" y="206.57" width="7.67" height="8.34" fill="#de5c4a"/>
<rect x="187.33" y="206.57" width="7.67" height="8.34" fill="#ce3232"/>
<rect x="194.00" y="206.57" width="7.67" height="8.34" fill="#741222"/>
<rect x="200.67" y="206.57" width="7.67" height="8.34" fill="#e46f59"/>
<rect x="207.33" y="206.57" width="6.67" height="8.34" fill="#f9cfb8"/>
<rect x="54.00" y="213.91" width="7.67" height="8.34" fill="#eb876d"/>
<rect x="60.67" y="213.91" width="7.67" height="8.34" fill="#eb876d"/>
<rect x="67.33" y="213.91" width="7.67" height="8.34" fill="#de5c4a"/>
<rect x="74.00" y="213.91" width="7.67" height="8.34" fill="#de5c4a"/>
<rect x="80.67" y="213.91" width="7.67" height="8.34" fill="#de5c4a"/>
<rect x="87.33" y="213.91" width="7.67" height="8.34" fill="#e26753"/>
<rect x="94.00" y="213.91" width="7.67" height="8.34" fill="#e26753"/>
<rect x="100.67" y="213.91" width="7.67" height="8.34" fill="#e26753"/>
<rect x="107.33" y="213.91" width="7.67" height="8.34" fill="#e26753"/>
<rect x="114.00" y="213.91" width="7.67" height="8.34" fill="#e6725c"/>
<rect x="120.67" y="213.91" width="7.67" height="8.34" fill="#ea8068"/>
<rect x="127.33" y="213.91" width="7.67" height="8.34" fill="#de5c4a"/>
<rect x="134.00" y="213.91" width="7.67" height="8.34" fill="#dc5444"/>
<rect x="140.67" y="213.91" width="7.67" height="8.34" fill="#d94d40"/>
<rect x="147.33" y="213.91" width="7.67" height="8.34" fill="#de5c4a"/>
<rect x="154.00" y="213.91" width="7.67" height="8.34" fill="#e26753"/>
<rect x="160.67" y="213.91" width="7.67" height="8.34" fill="#f4ac8d"/>
<rect x="167.33" y="213.91" width="7.67" height="8.34" fill="#ce3232"/>
<rect x="174.00" y="213.91" width="7.67" height="8.34" fill="#e26753"/>
<rect x="180.67" y="213.91" width="7.67" height="8.34" fill="#e46f59"/>
<rect x="187.33" y="213.91" width="7.67" height="8.34" fill="#e46f59"/>
<rect x="194.00" y="213.91" width="7.67" height="8.34" fill="#e26753"/>
<rect x="200.67" y="213.91" width="7.67" height="8.34" fill="#741222"/>
<rect x="207.33" y="213.91" width="6.67" height="8.34" fill="#e26753"/>
<rect x="54.00" y="221.26" width="7.67" height="7.34" fill="#f4ae90"/>
<rect x="60.67" y="221.26" width="7.67" height="7.34" fill="#f4ae90"/>
<rect x="67.33" y="221.26" width="7.67" height="7.34" fill="#f4ac8d"/>
<rect x="74.00" y="221.26" width="7.67" height="7.34" fill="#f4ae90"/>
<rect x="80.67" y="221.26" width="7.67" height="7.34" fill="#f6b99b"/>
<rect x="87.33" y="221.26" width="7.67" height="7.34" fill="#f4ae90"/>
<rect x="94.00" y="221.26" width="7.67" height="7.34" fill="#f8c9b1"/>
<rect x="100.67" y="221.26" width="7.67" height="7.34" fill="#f4ae90"/>
<rect x="107.33" y="221.26" width="7.67" height="7.34" fill="#f4ae90"/>
<rect x="114.00" y="221.26" width="7.67" height="7.34" fill="#f4ae90"/>
<rect x="120.67" y="221.26" width="7.67" height="7.34" fill="#f7c4aa"/>
<rect x="127.33" y="221.26" width="7.67" height="7.34" fill="#e46f59"/>
<rect x="134.00" y="221.26" width="7.67" height="7.34" fill="#e46f59"/>
<rect x="140.67" y="221.26" width="7.67" height="7.34" fill="#f2a487"/>
<rect x="147.33" y="221.26" width="7.67" height="7.34" fill="#f4ac8d"/>
<rect x="154.00" y="221.26" width="7.67" height="7.34" fill="#e46f59"/>
<rect x="160.67" y="221.26" width="7.67" height="7.34" fill="#f4ae90"/>
<rect x="167.33" y="221.26" width="7.67" height="7.34" fill="#d23c37"/>
<rect x="174.00" y="221.26" width="7.67" height="7.34" fill="#e46f59"/>
<rect x="180.67" y="221.26" width="7.67" height="7.34" fill="#f7c1a6"/>
<rect x="187.33" y="221.26" width="7.67" height="7.34" fill="#f7c1a6"/>
<rect x="194.00" y="221.26" width="7.67" height="7.34" fill="#e6725c"/>
<rect x="200.67" y="221.26" width="7.67" height="7.34" fill="#e46f59"/>
<rect x="207.33" y="221.26" width="6.67" height="7.34" fill="#741222"/>
</g>
<path d="M57.33,33.80V31.00H64.00V33.80M70.67,33.80V31.40H77.33V33.80M74.00,31.40V30.20H84.00V33.80M60.67,31.00V29.30H79.00V30.20M90.67,33.80V30.60H97.33V33.80M104.00,33.80V31.20H110.67V33.80M117.33,33.80V31.40H124.00V33.80M107.33,31.20V30.00H120.67V31.40M94.00,30.60V29.00H114.00V30.00M69.83,29.30V27.70H104.00V29.00M130.67,33.80V31.20H137.33V33.80M144.00,33.80V31.30H150.67V33.80M157.33,33.80V31.00H164.00V33.80M147.33,31.30V30.30H160.67V31.00M134.00,31.20V29.40H154.00V30.30M170.67,33.80V31.20H177.33V33.80M184.00,33.80V31.30H190.67V33.80M187.33,31.30V30.40H197.33V33.80M174.00,31.20V29.80H192.33V30.40M144.00,29.40V28.30H183.17V29.80M204.00,33.80V30.80H210.67V33.80M163.58,28.30V26.30H207.33V30.80M86.92,27.70V24.70H185.46V26.30" fill="none" stroke="#333333" stroke-width="0.75"/>
<text x="105.80" y="17.40" font-size="10.0" fill="#222" textLength="46.20" lengthAdjust="spacingAndGlyphs">Promoters</text>
<text x="7.20" y="17.00" font-size="12.2" fill="#000" font-weight="bold">A</text>
<text x="220.30" y="40.80" font-size="7.0" fill="#3a3a3a" textLength="33.40" lengthAdjust="spacingAndGlyphs" stroke="#3a3a3a" stroke-width="0.18">Correlation</text>
<defs><linearGradient id="cbA" x1="0" y1="0" x2="0" y2="1"><stop offset="0" stop-color="#7a0a1e"/><stop offset="0.08" stop-color="#b2182b"/><stop offset="0.17" stop-color="#d6604d"/><stop offset="0.25" stop-color="#f4a582"/><stop offset="0.31" stop-color="#fddbc7"/><stop offset="0.38" stop-color="#f7f7f7"/><stop offset="0.45" stop-color="#d1e5f0"/><stop offset="0.52" stop-color="#92c5de"/><stop offset="0.58" stop-color="#4393c3"/><stop offset="0.64" stop-color="#1d5ea6"/><stop offset="0.70" stop-color="#0b3570"/><stop offset="1" stop-color="#0a2c5e"/></linearGradient></defs>
<rect x="219.80" y="47.90" width="6.5" height="29.1" fill="url(#cbA)"/>
<path d="M219.80,48.80h1.8M224.50,48.80h1.8" stroke="#fff" stroke-width="0.8"/>
<text x="229.10" y="51.10" font-size="6.6" fill="#3a3a3a" textLength="2.20" lengthAdjust="spacingAndGlyphs" stroke="#3a3a3a" stroke-width="0.18">1</text>
<path d="M219.80,57.60h1.8M224.50,57.60h1.8" stroke="#fff" stroke-width="0.8"/>
<text x="229.10" y="59.90" font-size="6.6" fill="#3a3a3a" textLength="10.20" lengthAdjust="spacingAndGlyphs" stroke="#3a3a3a" stroke-width="0.18">0.8</text>
<path d="M219.80,66.40h1.8M224.50,66.40h1.8" stroke="#fff" stroke-width="0.8"/>
<text x="229.10" y="68.70" font-size="6.6" fill="#3a3a3a" textLength="10.20" lengthAdjust="spacingAndGlyphs" stroke="#3a3a3a" stroke-width="0.18">0.6</text>
<path d="M219.80,75.20h1.8M224.50,75.20h1.8" stroke="#fff" stroke-width="0.8"/>
<text x="229.10" y="77.50" font-size="6.6" fill="#3a3a3a" textLength="10.20" lengthAdjust="spacingAndGlyphs" stroke="#3a3a3a" stroke-width="0.18">0.4</text>
<rect x="306.70" y="35.2" width="73.30" height="10.6" fill="#F39214"/>
<rect x="380.60" y="35.2" width="39.50" height="10.6" fill="#3AA847"/>
<rect x="420.60" y="35.2" width="46.10" height="10.6" fill="#582A82"/>
<text x="323.60" y="43.20" font-size="7.4" fill="#5a2e04" textLength="38.50" lengthAdjust="spacingAndGlyphs" stroke="#5a2e04" stroke-width="0.18">Hyperdiploid</text>
<text x="383.80" y="43.30" font-size="7.3" fill="#0d4a18" textLength="32.20" lengthAdjust="spacingAndGlyphs" stroke="#0d4a18" stroke-width="0.18">ETV-RUNX</text>
<text x="426.70" y="43.20" font-size="7.3" fill="#e8dcf4" textLength="32.80" lengthAdjust="spacingAndGlyphs" stroke="#e8dcf4" stroke-width="0.18">DUX4/ERG</text>
<rect x="294.70" y="47.30" width="9.9" height="82.20" fill="#F39214"/>
<rect x="294.70" y="131.10" width="9.9" height="44.50" fill="#2f9e46"/>
<rect x="294.70" y="177.00" width="9.9" height="51.90" fill="#4e2580"/>
<text transform="translate(301.70,88.60) rotate(-90)" x="0" y="0" font-size="7.3" fill="#5a2e04" text-anchor="middle" textLength="38.80" lengthAdjust="spacingAndGlyphs">Hyperdiploid</text>
<text transform="translate(301.80,153.40) rotate(-90)" x="0" y="0" font-size="7.2" fill="#c4f0c8" text-anchor="middle" textLength="32.10" lengthAdjust="spacingAndGlyphs">ETV-RUNX</text>
<text transform="translate(301.50,203.50) rotate(-90)" x="0" y="0" font-size="7.2" fill="#e0d2f0" text-anchor="middle" textLength="33.50" lengthAdjust="spacingAndGlyphs">DUX4/ERG</text>
<g>
<rect x="306.70" y="47.30" width="7.67" height="8.47" fill="#741222"/>
<rect x="313.37" y="47.30" width="7.67" height="8.47" fill="#fad7c5"/>
<rect x="320.03" y="47.30" width="7.67" height="8.47" fill="#f4ae90"/>
<rect x="326.70" y="47.30" width="7.67" height="8.47" fill="#fbe4d8"/>
<rect x="333.37" y="47.30" width="7.67" height="8.47" fill="#fae6db"/>
<rect x="340.03" y="47.30" width="7.67" height="8.47" fill="#fbe2d5"/>
<rect x="346.70" y="47.30" width="7.67" height="8.47" fill="#fbe2d5"/>
<rect x="353.37" y="47.30" width="7.67" height="8.47" fill="#fadece"/>
<rect x="360.03" y="47.30" width="7.67" height="8.47" fill="#fadece"/>
<rect x="366.70" y="47.30" width="7.67" height="8.47" fill="#fadac8"/>
<rect x="373.37" y="47.30" width="7.67" height="8.47" fill="#f8ece5"/>
<rect x="380.03" y="47.30" width="7.67" height="8.47" fill="#f6b99b"/>
<rect x="386.70" y="47.30" width="7.67" height="8.47" fill="#f8efea"/>
<rect x="393.37" y="47.30" width="7.67" height="8.47" fill="#f8efea"/>
<rect x="400.03" y="47.30" width="7.67" height="8.47" fill="#f8eee8"/>
<rect x="406.70" y="47.30" width="7.67" height="8.47" fill="#f6f4f2"/>
<rect x="413.37" y="47.30" width="7.67" height="8.47" fill="#f6f4f2"/>
<rect x="420.03" y="47.30" width="7.67" height="8.47" fill="#f8efea"/>
<rect x="426.70" y="47.30" width="7.67" height="8.47" fill="#f6f4f2"/>
<rect x="433.37" y="47.30" width="7.67" height="8.47" fill="#eef1f2"/>
<rect x="440.03" y="47.30" width="7.67" height="8.47" fill="#c2ddee"/>
<rect x="446.70" y="47.30" width="7.67" height="8.47" fill="#eef1f2"/>
<rect x="453.37" y="47.30" width="7.67" height="8.47" fill="#4084c3"/>
<rect x="460.03" y="47.30" width="6.67" height="8.47" fill="#4084c3"/>
<rect x="306.70" y="54.77" width="7.67" height="8.47" fill="#fbe2d5"/>
<rect x="313.37" y="54.77" width="7.67" height="8.47" fill="#741222"/>
<rect x="320.03" y="54.77" width="7.67" height="8.47" fill="#fad7c5"/>
<rect x="326.70" y="54.77" width="7.67" height="8.47" fill="#fadece"/>
<rect x="333.37" y="54.77" width="7.67" height="8.47" fill="#f9d3be"/>
<rect x="340.03" y="54.77" width="7.67" height="8.47" fill="#eb876d"/>
<rect x="346.70" y="54.77" width="7.67" height="8.47" fill="#ee9478"/>
<rect x="353.37" y="54.77" width="7.67" height="8.47" fill="#fadece"/>
<rect x="360.03" y="54.77" width="7.67" height="8.47" fill="#f9d3be"/>
<rect x="366.70" y="54.77" width="7.67" height="8.47" fill="#f9d1bb"/>
<rect x="373.37" y="54.77" width="7.67" height="8.47" fill="#fae6db"/>
<rect x="380.03" y="54.77" width="7.67" height="8.47" fill="#f6f4f2"/>
<rect x="386.70" y="54.77" width="7.67" height="8.47" fill="#c8e0ef"/>
<rect x="393.37" y="54.77" width="7.67" height="8.47" fill="#c8e0ef"/>
<rect x="400.03" y="54.77" width="7.67" height="8.47" fill="#f6f4f2"/>
<rect x="406.70" y="54.77" width="7.67" height="8.47" fill="#f0f2f2"/>
<rect x="413.37" y="54.77" width="7.67" height="8.47" fill="#eef1f2"/>
<rect x="420.03" y="54.77" width="7.67" height="8.47" fill="#e8eef2"/>
<rect x="426.70" y="54.77" width="7.67" height="8.47" fill="#eef1f2"/>
<rect x="433.37" y="54.77" width="7.67" height="8.47" fill="#a2cae5"/>
<rect x="440.03" y="54.77" width="7.67" height="8.47" fill="#4084c3"/>
<rect x="446.70" y="54.77" width="7.67" height="8.47" fill="#eef1f2"/>
<rect x="453.37" y="54.77" width="7.67" height="8.47" fill="#5da0cf"/>
<rect x="460.03" y="54.77" width="6.67" height="8.47" fill="#d1e4f1"/>
<rect x="306.70" y="62.25" width="7.67" height="8.47" fill="#f5b394"/>
<rect x="313.37" y="62.25" width="7.67" height="8.47" fill="#fbe4d8"/>
<rect x="320.03" y="62.25" width="7.67" height="8.47" fill="#741222"/>
<rect x="326.70" y="62.25" width="7.67" height="8.47" fill="#fbe2d5"/>
<rect x="333.37" y="62.25" width="7.67" height="8.47" fill="#fadece"/>
<rect x="340.03" y="62.25" width="7.67" height="8.47" fill="#fadac8"/>
<rect x="346.70" y="62.25" width="7.67" height="8.47" fill="#fad5c2"/>
<rect x="353.37" y="62.25" width="7.67" height="8.47" fill="#fad5c2"/>
<rect x="360.03" y="62.25" width="7.67" height="8.47" fill="#f9d1bb"/>
<rect x="366.70" y="62.25" width="7.67" height="8.47" fill="#ee9478"/>
<rect x="373.37" y="62.25" width="7.67" height="8.47" fill="#f09c80"/>
<rect x="380.03" y="62.25" width="7.67" height="8.47" fill="#f6f4f2"/>
<rect x="386.70" y="62.25" width="7.67" height="8.47" fill="#ebf0f2"/>
<rect x="393.37" y="62.25" width="7.67" height="8.47" fill="#ebf0f2"/>
<rect x="400.03" y="62.25" width="7.67" height="8.47" fill="#f6f4f2"/>
<rect x="406.70" y="62.25" width="7.67" height="8.47" fill="#dae9f3"/>
<rect x="413.37" y="62.25" width="7.67" height="8.47" fill="#b6d6eb"/>
<rect x="420.03" y="62.25" width="7.67" height="8.47" fill="#dae9f3"/>
<rect x="426.70" y="62.25" width="7.67" height="8.47" fill="#e2ecf3"/>
<rect x="433.37" y="62.25" width="7.67" height="8.47" fill="#5da0cf"/>
<rect x="440.03" y="62.25" width="7.67" height="8.47" fill="#4084c3"/>
<rect x="446.70" y="62.25" width="7.67" height="8.47" fill="#c8e0ef"/>
<rect x="453.37" y="62.25" width="7.67" height="8.47" fill="#b6d6eb"/>
<rect x="460.03" y="62.25" width="6.67" height="8.47" fill="#4084c3"/>
<rect x="306.70" y="69.72" width="7.67" height="8.47" fill="#fbe4d8"/>
<rect x="313.37" y="69.72" width="7.67" height="8.47" fill="#fbe2d5"/>
<rect x="320.03" y="69.72" width="7.67" height="8.47" fill="#fbe2d5"/>
<rect x="326.70" y="69.72" width="7.67" height="8.47" fill="#741222"/>
<rect x="333.37" y="69.72" width="7.67" height="8.47" fill="#e16350"/>
<rect x="340.03" y="69.72" width="7.67" height="8.47" fill="#ed8d73"/>
<rect x="346.70" y="69.72" width="7.67" height="8.47" fill="#e87a62"/>
<rect x="353.37" y="69.72" width="7.67" height="8.47" fill="#e36b56"/>
<rect x="360.03" y="69.72" width="7.67" height="8.47" fill="#f4ae90"/>
<rect x="366.70" y="69.72" width="7.67" height="8.47" fill="#f09c80"/>
<rect x="373.37" y="69.72" width="7.67" height="8.47" fill="#e87a62"/>
<rect x="380.03" y="69.72" width="7.67" height="8.47" fill="#f3f3f2"/>
<rect x="386.70" y="69.72" width="7.67" height="8.47" fill="#e0ebf3"/>
<rect x="393.37" y="69.72" width="7.67" height="8.47" fill="#e2ecf3"/>
<rect x="400.03" y="69.72" width="7.67" height="8.47" fill="#e8eef2"/>
<rect x="406.70" y="69.72" width="7.67" height="8.47" fill="#9fc8e4"/>
<rect x="413.37" y="69.72" width="7.67" height="8.47" fill="#4a90c8"/>
<rect x="420.03" y="69.72" width="7.67" height="8.47" fill="#dae9f3"/>
<rect x="426.70" y="69.72" width="7.67" height="8.47" fill="#a2cae5"/>
<rect x="433.37" y="69.72" width="7.67" height="8.47" fill="#4a90c8"/>
<rect x="440.03" y="69.72" width="7.67" height="8.47" fill="#3a7cc0"/>
<rect x="446.70" y="69.72" width="7.67" height="8.47" fill="#c2ddee"/>
<rect x="453.37" y="69.72" width="7.67" height="8.47" fill="#9fc8e4"/>
<rect x="460.03" y="69.72" width="6.67" height="8.47" fill="#a2cae5"/>
<rect x="306.70" y="77.19" width="7.67" height="8.47" fill="#fbe4d8"/>
<rect x="313.37" y="77.19" width="7.67" height="8.47" fill="#f9d1bb"/>
<rect x="320.03" y="77.19" width="7.67" height="8.47" fill="#fbe2d5"/>
<rect x="326.70" y="77.19" width="7.67" height="8.47" fill="#e26753"/>
<rect x="333.37" y="77.19" width="7.67" height="8.47" fill="#741222"/>
<rect x="340.03" y="77.19" width="7.67" height="8.47" fill="#ee9478"/>
<rect x="346.70" y="77.19" width="7.67" height="8.47" fill="#e87a62"/>
<rect x="353.37" y="77.19" width="7.67" height="8.47" fill="#e87a62"/>
<rect x="360.03" y="77.19" width="7.67" height="8.47" fill="#f3a98b"/>
<rect x="366.70" y="77.19" width="7.67" height="8.47" fill="#f09c80"/>
<rect x="373.37" y="77.19" width="7.67" height="8.47" fill="#e87a62"/>
<rect x="380.03" y="77.19" width="7.67" height="8.47" fill="#f3f3f2"/>
<rect x="386.70" y="77.19" width="7.67" height="8.47" fill="#d7e8f2"/>
<rect x="393.37" y="77.19" width="7.67" height="8.47" fill="#e0ebf3"/>
<rect x="400.03" y="77.19" width="7.67" height="8.47" fill="#e2ecf3"/>
<rect x="406.70" y="77.19" width="7.67" height="8.47" fill="#a2cae5"/>
<rect x="413.37" y="77.19" width="7.67" height="8.47" fill="#6aaad4"/>
<rect x="420.03" y="77.19" width="7.67" height="8.47" fill="#d7e8f2"/>
<rect x="426.70" y="77.19" width="7.67" height="8.47" fill="#9fc8e4"/>
<rect x="433.37" y="77.19" width="7.67" height="8.47" fill="#4084c3"/>
<rect x="440.03" y="77.19" width="7.67" height="8.47" fill="#2663b2"/>
<rect x="446.70" y="77.19" width="7.67" height="8.47" fill="#c8e0ef"/>
<rect x="453.37" y="77.19" width="7.67" height="8.47" fill="#6aaad4"/>
<rect x="460.03" y="77.19" width="6.67" height="8.47" fill="#a2cae5"/>
<rect x="306.70" y="84.66" width="7.67" height="8.47" fill="#fae6db"/>
<rect x="313.37" y="84.66" width="7.67" height="8.47" fill="#ee9478"/>
<rect x="320.03" y="84.66" width="7.67" height="8.47" fill="#fad5c2"/>
<rect x="326.70" y="84.66" width="7.67" height="8.47" fill="#f19f82"/>
<rect x="333.37" y="84.66" width="7.67" height="8.47" fill="#f09c80"/>
<rect x="340.03" y="84.66" width="7.67" height="8.47" fill="#741222"/>
<rect x="346.70" y="84.66" width="7.67" height="8.47" fill="#e87a62"/>
<rect x="353.37" y="84.66" width="7.67" height="8.47" fill="#ea846a"/>
<rect x="360.03" y="84.66" width="7.67" height="8.47" fill="#f3a98b"/>
<rect x="366.70" y="84.66" width="7.67" height="8.47" fill="#f2a689"/>
<rect x="373.37" y="84.66" width="7.67" height="8.47" fill="#ea8068"/>
<rect x="380.03" y="84.66" width="7.67" height="8.47" fill="#eef1f2"/>
<rect x="386.70" y="84.66" width="7.67" height="8.47" fill="#b6d6eb"/>
<rect x="393.37" y="84.66" width="7.67" height="8.47" fill="#c8e0ef"/>
<rect x="400.03" y="84.66" width="7.67" height="8.47" fill="#d7e8f2"/>
<rect x="406.70" y="84.66" width="7.67" height="8.47" fill="#9fc8e4"/>
<rect x="413.37" y="84.66" width="7.67" height="8.47" fill="#92c0e0"/>
<rect x="420.03" y="84.66" width="7.67" height="8.47" fill="#d1e4f1"/>
<rect x="426.70" y="84.66" width="7.67" height="8.47" fill="#a2cae5"/>
<rect x="433.37" y="84.66" width="7.67" height="8.47" fill="#4a90c8"/>
<rect x="440.03" y="84.66" width="7.67" height="8.47" fill="#4084c3"/>
<rect x="446.70" y="84.66" width="7.67" height="8.47" fill="#c2ddee"/>
<rect x="453.37" y="84.66" width="7.67" height="8.47" fill="#6aaad4"/>
<rect x="460.03" y="84.66" width="6.67" height="8.47" fill="#acd0e8"/>
<rect x="306.70" y="92.14" width="7.67" height="8.47" fill="#fbe4d8"/>
<rect x="313.37" y="92.14" width="7.67" height="8.47" fill="#f5b394"/>
<rect x="320.03" y="92.14" width="7.67" height="8.47" fill="#fad5c2"/>
<rect x="326.70" y="92.14" width="7.67" height="8.47" fill="#e46f59"/>
<rect x="333.37" y="92.14" width="7.67" height="8.47" fill="#e46f59"/>
<rect x="340.03" y="92.14" width="7.67" height="8.47" fill="#e87a62"/>
<rect x="346.70" y="92.14" width="7.67" height="8.47" fill="#741222"/>
<rect x="353.37" y="92.14" width="7.67" height="8.47" fill="#ed8d73"/>
<rect x="360.03" y="92.14" width="7.67" height="8.47" fill="#f4ae90"/>
<rect x="366.70" y="92.14" width="7.67" height="8.47" fill="#e87a62"/>
<rect x="373.37" y="92.14" width="7.67" height="8.47" fill="#ee9478"/>
<rect x="380.03" y="92.14" width="7.67" height="8.47" fill="#e2ecf3"/>
<rect x="386.70" y="92.14" width="7.67" height="8.47" fill="#b6d6eb"/>
<rect x="393.37" y="92.14" width="7.67" height="8.47" fill="#d7e8f2"/>
<rect x="400.03" y="92.14" width="7.67" height="8.47" fill="#d7e8f2"/>
<rect x="406.70" y="92.14" width="7.67" height="8.47" fill="#a2cae5"/>
<rect x="413.37" y="92.14" width="7.67" height="8.47" fill="#5da0cf"/>
<rect x="420.03" y="92.14" width="7.67" height="8.47" fill="#d1e4f1"/>
<rect x="426.70" y="92.14" width="7.67" height="8.47" fill="#92c0e0"/>
<rect x="433.37" y="92.14" width="7.67" height="8.47" fill="#4084c3"/>
<rect x="440.03" y="92.14" width="7.67" height="8.47" fill="#2a68b8"/>
<rect x="446.70" y="92.14" width="7.67" height="8.47" fill="#c2ddee"/>
<rect x="453.37" y="92.14" width="7.67" height="8.47" fill="#6aaad4"/>
<rect x="460.03" y="92.14" width="6.67" height="8.47" fill="#acd0e8"/>
<rect x="306.70" y="99.61" width="7.67" height="8.47" fill="#fbe4d8"/>
<rect x="313.37" y="99.61" width="7.67" height="8.47" fill="#f8c7ad"/>
<rect x="320.03" y="99.61" width="7.67" height="8.47" fill="#fad5c2"/>
<rect x="326.70" y="99.61" width="7.67" height="8.47" fill="#e46f59"/>
<rect x="333.37" y="99.61" width="7.67" height="8.47" fill="#e87a62"/>
<rect x="340.03" y="99.61" width="7.67" height="8.47" fill="#e87a62"/>
<rect x="346.70" y="99.61" width="7.67" height="8.47" fill="#ea8068"/>
<rect x="353.37" y="99.61" width="7.67" height="8.47" fill="#741222"/>
<rect x="360.03" y="99.61" width="7.67" height="8.47" fill="#f7bea2"/>
<rect x="366.70" y="99.61" width="7.67" height="8.47" fill="#f8c7ad"/>
<rect x="373.37" y="99.61" width="7.67" height="8.47" fill="#f09c80"/>
<rect x="380.03" y="99.61" width="7.67" height="8.47" fill="#e2ecf3"/>
<rect x="386.70" y="99.61" width="7.67" height="8.47" fill="#a2cae5"/>
<rect x="393.37" y="99.61" width="7.67" height="8.47" fill="#d1e4f1"/>
<rect x="400.03" y="99.61" width="7.67" height="8.47" fill="#d7e8f2"/>
<rect x="406.70" y="99.61" width="7.67" height="8.47" fill="#a2cae5"/>
<rect x="413.37" y="99.61" width="7.67" height="8.47" fill="#5da0cf"/>
<rect x="420.03" y="99.61" width="7.67" height="8.47" fill="#d1e4f1"/>
<rect x="426.70" y="99.61" width="7.67" height="8.47" fill="#a2cae5"/>
<rect x="433.37" y="99.61" width="7.67" height="8.47" fill="#4a90c8"/>
<rect x="440.03" y="99.61" width="7.67" height="8.47" fill="#2a68b8"/>
<rect x="446.70" y="99.61" width="7.67" height="8.47" fill="#c2ddee"/>
<rect x="453.37" y="99.61" width="7.67" height="8.47" fill="#4a90c8"/>
<rect x="460.03" y="99.61" width="6.67" height="8.47" fill="#acd0e8"/>
<rect x="306.70" y="107.08" width="7.67" height="8.47" fill="#fad5c2"/>
<rect x="313.37" y="107.08" width="7.67" height="8.47" fill="#f5b394"/>
<rect x="320.03" y="107.08" width="7.67" height="8.47" fill="#f6bb9f"/>
<rect x="326.70" y="107.08" width="7.67" height="8.47" fill="#f09c80"/>
<rect x="333.37" y="107.08" width="7.67" height="8.47" fill="#ee9076"/>
<rect x="340.03" y="107.08" width="7.67" height="8.47" fill="#e87a62"/>
<rect x="346.70" y="107.08" width="7.67" height="8.47" fill="#e87a62"/>
<rect x="353.37" y="107.08" width="7.67" height="8.47" fill="#f4ae90"/>
<rect x="360.03" y="107.08" width="7.67" height="8.47" fill="#741222"/>
<rect x="366.70" y="107.08" width="7.67" height="8.47" fill="#ee9478"/>
<rect x="373.37" y="107.08" width="7.67" height="8.47" fill="#f7bea2"/>
<rect x="380.03" y="107.08" width="7.67" height="8.47" fill="#f6f4f2"/>
<rect x="386.70" y="107.08" width="7.67" height="8.47" fill="#e2ecf3"/>
<rect x="393.37" y="107.08" width="7.67" height="8.47" fill="#e5edf3"/>
<rect x="400.03" y="107.08" width="7.67" height="8.47" fill="#eef1f2"/>
<rect x="406.70" y="107.08" width="7.67" height="8.47" fill="#e0ebf3"/>
<rect x="413.37" y="107.08" width="7.67" height="8.47" fill="#b6d6eb"/>
<rect x="420.03" y="107.08" width="7.67" height="8.47" fill="#e0ebf3"/>
<rect x="426.70" y="107.08" width="7.67" height="8.47" fill="#c2ddee"/>
<rect x="433.37" y="107.08" width="7.67" height="8.47" fill="#5da0cf"/>
<rect x="440.03" y="107.08" width="7.67" height="8.47" fill="#3778be"/>
<rect x="446.70" y="107.08" width="7.67" height="8.47" fill="#e0ebf3"/>
<rect x="453.37" y="107.08" width="7.67" height="8.47" fill="#a2cae5"/>
<rect x="460.03" y="107.08" width="6.67" height="8.47" fill="#a2cae5"/>
<rect x="306.70" y="114.55" width="7.67" height="8.47" fill="#fbe2d5"/>
<rect x="313.37" y="114.55" width="7.67" height="8.47" fill="#f8c7ad"/>
<rect x="320.03" y="114.55" width="7.67" height="8.47" fill="#f5b394"/>
<rect x="326.70" y="114.55" width="7.67" height="8.47" fill="#f4ac8d"/>
<rect x="333.37" y="114.55" width="7.67" height="8.47" fill="#ee9076"/>
<rect x="340.03" y="114.55" width="7.67" height="8.47" fill="#e87a62"/>
<rect x="346.70" y="114.55" width="7.67" height="8.47" fill="#e87a62"/>
<rect x="353.37" y="114.55" width="7.67" height="8.47" fill="#f7bea2"/>
<rect x="360.03" y="114.55" width="7.67" height="8.47" fill="#ee9478"/>
<rect x="366.70" y="114.55" width="7.67" height="8.47" fill="#741222"/>
<rect x="373.37" y="114.55" width="7.67" height="8.47" fill="#fad5c2"/>
<rect x="380.03" y="114.55" width="7.67" height="8.47" fill="#f6f4f2"/>
<rect x="386.70" y="114.55" width="7.67" height="8.47" fill="#e0ebf3"/>
<rect x="393.37" y="114.55" width="7.67" height="8.47" fill="#e2ecf3"/>
<rect x="400.03" y="114.55" width="7.67" height="8.47" fill="#e5edf3"/>
<rect x="406.70" y="114.55" width="7.67" height="8.47" fill="#d1e4f1"/>
<rect x="413.37" y="114.55" width="7.67" height="8.47" fill="#5da0cf"/>
<rect x="420.03" y="114.55" width="7.67" height="8.47" fill="#d7e8f2"/>
<rect x="426.70" y="114.55" width="7.67" height="8.47" fill="#9fc8e4"/>
<rect x="433.37" y="114.55" width="7.67" height="8.47" fill="#3d80c2"/>
<rect x="440.03" y="114.55" width="7.67" height="8.47" fill="#2a68b8"/>
<rect x="446.70" y="114.55" width="7.67" height="8.47" fill="#a2cae5"/>
<rect x="453.37" y="114.55" width="7.67" height="8.47" fill="#92c0e0"/>
<rect x="460.03" y="114.55" width="6.67" height="8.47" fill="#3d80c2"/>
<rect x="306.70" y="122.03" width="7.67" height="7.47" fill="#f0f2f2"/>
<rect x="313.37" y="122.03" width="7.67" height="7.47" fill="#fad5c2"/>
<rect x="320.03" y="122.03" width="7.67" height="7.47" fill="#f5b394"/>
<rect x="326.70" y="122.03" width="7.67" height="7.47" fill="#f5b394"/>
<rect x="333.37" y="122.03" width="7.67" height="7.47" fill="#f6bb9f"/>
<rect x="340.03" y="122.03" width="7.67" height="7.47" fill="#f5b394"/>
<rect x="346.70" y="122.03" width="7.67" height="7.47" fill="#f7bea2"/>
<rect x="353.37" y="122.03" width="7.67" height="7.47" fill="#f9d3be"/>
<rect x="360.03" y="122.03" width="7.67" height="7.47" fill="#fad5c2"/>
<rect x="366.70" y="122.03" width="7.67" height="7.47" fill="#fad5c2"/>
<rect x="373.37" y="122.03" width="7.67" height="7.47" fill="#741222"/>
<rect x="380.03" y="122.03" width="7.67" height="7.47" fill="#e0ebf3"/>
<rect x="386.70" y="122.03" width="7.67" height="7.47" fill="#c8e0ef"/>
<rect x="393.37" y="122.03" width="7.67" height="7.47" fill="#d7e8f2"/>
<rect x="400.03" y="122.03" width="7.67" height="7.47" fill="#c8e0ef"/>
<rect x="406.70" y="122.03" width="7.67" height="7.47" fill="#88bbdd"/>
<rect x="413.37" y="122.03" width="7.67" height="7.47" fill="#4a90c8"/>
<rect x="420.03" y="122.03" width="7.67" height="7.47" fill="#d1e4f1"/>
<rect x="426.70" y="122.03" width="7.67" height="7.47" fill="#9fc8e4"/>
<rect x="433.37" y="122.03" width="7.67" height="7.47" fill="#3d80c2"/>
<rect x="440.03" y="122.03" width="7.67" height="7.47" fill="#2a68b8"/>
<rect x="446.70" y="122.03" width="7.67" height="7.47" fill="#9fc8e4"/>
<rect x="453.37" y="122.03" width="7.67" height="7.47" fill="#92c0e0"/>
<rect x="460.03" y="122.03" width="6.67" height="7.47" fill="#a2cae5"/>
<rect x="306.70" y="131.10" width="7.67" height="8.42" fill="#f6b99b"/>
<rect x="313.37" y="131.10" width="7.67" height="8.42" fill="#eef1f2"/>
<rect x="320.03" y="131.10" width="7.67" height="8.42" fill="#f6f4f2"/>
<rect x="326.70" y="131.10" width="7.67" height="8.42" fill="#f3f3f2"/>
<rect x="333.37" y="131.10" width="7.67" height="8.42" fill="#f3f3f2"/>
<rect x="340.03" y="131.10" width="7.67" height="8.42" fill="#eef1f2"/>
<rect x="346.70" y="131.10" width="7.67" height="8.42" fill="#e8eef2"/>
<rect x="353.37" y="131.10" width="7.67" height="8.42" fill="#eef1f2"/>
<rect x="360.03" y="131.10" width="7.67" height="8.42" fill="#e2ecf3"/>
<rect x="366.70" y="131.10" width="7.67" height="8.42" fill="#f3f3f2"/>
<rect x="373.37" y="131.10" width="7.67" height="8.42" fill="#e0ebf3"/>
<rect x="380.03" y="131.10" width="7.67" height="8.42" fill="#741222"/>
<rect x="386.70" y="131.10" width="7.67" height="8.42" fill="#e26753"/>
<rect x="393.37" y="131.10" width="7.67" height="8.42" fill="#f5b394"/>
<rect x="400.03" y="131.10" width="7.67" height="8.42" fill="#ed8d73"/>
<rect x="406.70" y="131.10" width="7.67" height="8.42" fill="#f09c80"/>
<rect x="413.37" y="131.10" width="7.67" height="8.42" fill="#f5b394"/>
<rect x="420.03" y="131.10" width="7.67" height="8.42" fill="#f6f4f2"/>
<rect x="426.70" y="131.10" width="7.67" height="8.42" fill="#fae9e0"/>
<rect x="433.37" y="131.10" width="7.67" height="8.42" fill="#f7f1ed"/>
<rect x="440.03" y="131.10" width="7.67" height="8.42" fill="#eef1f2"/>
<rect x="446.70" y="131.10" width="7.67" height="8.42" fill="#e8eef2"/>
<rect x="453.37" y="131.10" width="7.67" height="8.42" fill="#9fc8e4"/>
<rect x="460.03" y="131.10" width="6.67" height="8.42" fill="#3d80c2"/>
<rect x="306.70" y="138.52" width="7.67" height="8.42" fill="#fae7dd"/>
<rect x="313.37" y="138.52" width="7.67" height="8.42" fill="#c2ddee"/>
<rect x="320.03" y="138.52" width="7.67" height="8.42" fill="#f0f2f2"/>
<rect x="326.70" y="138.52" width="7.67" height="8.42" fill="#e2ecf3"/>
<rect x="333.37" y="138.52" width="7.67" height="8.42" fill="#e2ecf3"/>
<rect x="340.03" y="138.52" width="7.67" height="8.42" fill="#c8e0ef"/>
<rect x="346.70" y="138.52" width="7.67" height="8.42" fill="#c2ddee"/>
<rect x="353.37" y="138.52" width="7.67" height="8.42" fill="#c2ddee"/>
<rect x="360.03" y="138.52" width="7.67" height="8.42" fill="#acd0e8"/>
<rect x="366.70" y="138.52" width="7.67" height="8.42" fill="#ebf0f2"/>
<rect x="373.37" y="138.52" width="7.67" height="8.42" fill="#c2ddee"/>
<rect x="380.03" y="138.52" width="7.67" height="8.42" fill="#e26753"/>
<rect x="386.70" y="138.52" width="7.67" height="8.42" fill="#741222"/>
<rect x="393.37" y="138.52" width="7.67" height="8.42" fill="#ee9478"/>
<rect x="400.03" y="138.52" width="7.67" height="8.42" fill="#ed8d73"/>
<rect x="406.70" y="138.52" width="7.67" height="8.42" fill="#f4ae90"/>
<rect x="413.37" y="138.52" width="7.67" height="8.42" fill="#fae9e0"/>
<rect x="420.03" y="138.52" width="7.67" height="8.42" fill="#f0f2f2"/>
<rect x="426.70" y="138.52" width="7.67" height="8.42" fill="#f6f4f2"/>
<rect x="433.37" y="138.52" width="7.67" height="8.42" fill="#d7e8f2"/>
<rect x="440.03" y="138.52" width="7.67" height="8.42" fill="#c2ddee"/>
<rect x="446.70" y="138.52" width="7.67" height="8.42" fill="#6aaad4"/>
<rect x="453.37" y="138.52" width="7.67" height="8.42" fill="#88bbdd"/>
<rect x="460.03" y="138.52" width="6.67" height="8.42" fill="#154993"/>
<rect x="306.70" y="145.93" width="7.67" height="8.42" fill="#f8efea"/>
<rect x="313.37" y="145.93" width="7.67" height="8.42" fill="#c2ddee"/>
<rect x="320.03" y="145.93" width="7.67" height="8.42" fill="#f0f2f2"/>
<rect x="326.70" y="145.93" width="7.67" height="8.42" fill="#ebf0f2"/>
<rect x="333.37" y="145.93" width="7.67" height="8.42" fill="#ebf0f2"/>
<rect x="340.03" y="145.93" width="7.67" height="8.42" fill="#d7e8f2"/>
<rect x="346.70" y="145.93" width="7.67" height="8.42" fill="#d1e4f1"/>
<rect x="353.37" y="145.93" width="7.67" height="8.42" fill="#d7e8f2"/>
<rect x="360.03" y="145.93" width="7.67" height="8.42" fill="#d7e8f2"/>
<rect x="366.70" y="145.93" width="7.67" height="8.42" fill="#f3f3f2"/>
<rect x="373.37" y="145.93" width="7.67" height="8.42" fill="#e2ecf3"/>
<rect x="380.03" y="145.93" width="7.67" height="8.42" fill="#f09c80"/>
<rect x="386.70" y="145.93" width="7.67" height="8.42" fill="#f4ac8d"/>
<rect x="393.37" y="145.93" width="7.67" height="8.42" fill="#741222"/>
<rect x="400.03" y="145.93" width="7.67" height="8.42" fill="#f4ae90"/>
<rect x="406.70" y="145.93" width="7.67" height="8.42" fill="#f9d3be"/>
<rect x="413.37" y="145.93" width="7.67" height="8.42" fill="#f0f2f2"/>
<rect x="420.03" y="145.93" width="7.67" height="8.42" fill="#e2ecf3"/>
<rect x="426.70" y="145.93" width="7.67" height="8.42" fill="#f6f4f2"/>
<rect x="433.37" y="145.93" width="7.67" height="8.42" fill="#d1e4f1"/>
<rect x="440.03" y="145.93" width="7.67" height="8.42" fill="#acd0e8"/>
<rect x="446.70" y="145.93" width="7.67" height="8.42" fill="#6aaad4"/>
<rect x="453.37" y="145.93" width="7.67" height="8.42" fill="#88bbdd"/>
<rect x="460.03" y="145.93" width="6.67" height="8.42" fill="#2663b2"/>
<rect x="306.70" y="153.35" width="7.67" height="8.42" fill="#f8efea"/>
<rect x="313.37" y="153.35" width="7.67" height="8.42" fill="#f0f2f2"/>
<rect x="320.03" y="153.35" width="7.67" height="8.42" fill="#e8eef2"/>
<rect x="326.70" y="153.35" width="7.67" height="8.42" fill="#e2ecf3"/>
<rect x="333.37" y="153.35" width="7.67" height="8.42" fill="#e2ecf3"/>
<rect x="340.03" y="153.35" width="7.67" height="8.42" fill="#e2ecf3"/>
<rect x="346.70" y="153.35" width="7.67" height="8.42" fill="#e2ecf3"/>
<rect x="353.37" y="153.35" width="7.67" height="8.42" fill="#e0ebf3"/>
<rect x="360.03" y="153.35" width="7.67" height="8.42" fill="#e0ebf3"/>
<rect x="366.70" y="153.35" width="7.67" height="8.42" fill="#f3f3f2"/>
<rect x="373.37" y="153.35" width="7.67" height="8.42" fill="#d7e8f2"/>
<rect x="380.03" y="153.35" width="7.67" height="8.42" fill="#ee9478"/>
<rect x="386.70" y="153.35" width="7.67" height="8.42" fill="#ee9478"/>
<rect x="393.37" y="153.35" width="7.67" height="8.42" fill="#f4ae90"/>
<rect x="400.03" y="153.35" width="7.67" height="8.42" fill="#741222"/>
<rect x="406.70" y="153.35" width="7.67" height="8.42" fill="#e87a62"/>
<rect x="413.37" y="153.35" width="7.67" height="8.42" fill="#f09c80"/>
<rect x="420.03" y="153.35" width="7.67" height="8.42" fill="#fae9e0"/>
<rect x="426.70" y="153.35" width="7.67" height="8.42" fill="#f8c7ad"/>
<rect x="433.37" y="153.35" width="7.67" height="8.42" fill="#f8efea"/>
<rect x="440.03" y="153.35" width="7.67" height="8.42" fill="#f3f3f2"/>
<rect x="446.70" y="153.35" width="7.67" height="8.42" fill="#d7e8f2"/>
<rect x="453.37" y="153.35" width="7.67" height="8.42" fill="#d1e4f1"/>
<rect x="460.03" y="153.35" width="6.67" height="8.42" fill="#3d80c2"/>
<rect x="306.70" y="160.77" width="7.67" height="8.42" fill="#f8efea"/>
<rect x="313.37" y="160.77" width="7.67" height="8.42" fill="#e2ecf3"/>
<rect x="320.03" y="160.77" width="7.67" height="8.42" fill="#d7e8f2"/>
<rect x="326.70" y="160.77" width="7.67" height="8.42" fill="#a2cae5"/>
<rect x="333.37" y="160.77" width="7.67" height="8.42" fill="#a2cae5"/>
<rect x="340.03" y="160.77" width="7.67" height="8.42" fill="#acd0e8"/>
<rect x="346.70" y="160.77" width="7.67" height="8.42" fill="#a2cae5"/>
<rect x="353.37" y="160.77" width="7.67" height="8.42" fill="#9fc8e4"/>
<rect x="360.03" y="160.77" width="7.67" height="8.42" fill="#b6d6eb"/>
<rect x="366.70" y="160.77" width="7.67" height="8.42" fill="#c2ddee"/>
<rect x="373.37" y="160.77" width="7.67" height="8.42" fill="#88bbdd"/>
<rect x="380.03" y="160.77" width="7.67" height="8.42" fill="#f09c80"/>
<rect x="386.70" y="160.77" width="7.67" height="8.42" fill="#f4ae90"/>
<rect x="393.37" y="160.77" width="7.67" height="8.42" fill="#f9d3be"/>
<rect x="400.03" y="160.77" width="7.67" height="8.42" fill="#e87a62"/>
<rect x="406.70" y="160.77" width="7.67" height="8.42" fill="#741222"/>
<rect x="413.37" y="160.77" width="7.67" height="8.42" fill="#ee9478"/>
<rect x="420.03" y="160.77" width="7.67" height="8.42" fill="#fae9e0"/>
<rect x="426.70" y="160.77" width="7.67" height="8.42" fill="#f5b394"/>
<rect x="433.37" y="160.77" width="7.67" height="8.42" fill="#f8efea"/>
<rect x="440.03" y="160.77" width="7.67" height="8.42" fill="#f3f3f2"/>
<rect x="446.70" y="160.77" width="7.67" height="8.42" fill="#ebf0f2"/>
<rect x="453.37" y="160.77" width="7.67" height="8.42" fill="#9fc8e4"/>
<rect x="460.03" y="160.77" width="6.67" height="8.42" fill="#4084c3"/>
<rect x="306.70" y="168.18" width="7.67" height="7.42" fill="#f3f3f2"/>
<rect x="313.37" y="168.18" width="7.67" height="7.42" fill="#e8eef2"/>
<rect x="320.03" y="168.18" width="7.67" height="7.42" fill="#c8e0ef"/>
<rect x="326.70" y="168.18" width="7.67" height="7.42" fill="#6aaad4"/>
<rect x="333.37" y="168.18" width="7.67" height="7.42" fill="#6aaad4"/>
<rect x="340.03" y="168.18" width="7.67" height="7.42" fill="#92c0e0"/>
<rect x="346.70" y="168.18" width="7.67" height="7.42" fill="#5da0cf"/>
<rect x="353.37" y="168.18" width="7.67" height="7.42" fill="#5da0cf"/>
<rect x="360.03" y="168.18" width="7.67" height="7.42" fill="#88bbdd"/>
<rect x="366.70" y="168.18" width="7.67" height="7.42" fill="#4a90c8"/>
<rect x="373.37" y="168.18" width="7.67" height="7.42" fill="#4084c3"/>
<rect x="380.03" y="168.18" width="7.67" height="7.42" fill="#f9d3be"/>
<rect x="386.70" y="168.18" width="7.67" height="7.42" fill="#fae7dd"/>
<rect x="393.37" y="168.18" width="7.67" height="7.42" fill="#fae7dd"/>
<rect x="400.03" y="168.18" width="7.67" height="7.42" fill="#f09c80"/>
<rect x="406.70" y="168.18" width="7.67" height="7.42" fill="#f4ae90"/>
<rect x="413.37" y="168.18" width="7.67" height="7.42" fill="#741222"/>
<rect x="420.03" y="168.18" width="7.67" height="7.42" fill="#f6f4f2"/>
<rect x="426.70" y="168.18" width="7.67" height="7.42" fill="#fae9e0"/>
<rect x="433.37" y="168.18" width="7.67" height="7.42" fill="#f6f4f2"/>
<rect x="440.03" y="168.18" width="7.67" height="7.42" fill="#d7e8f2"/>
<rect x="446.70" y="168.18" width="7.67" height="7.42" fill="#e2ecf3"/>
<rect x="453.37" y="168.18" width="7.67" height="7.42" fill="#3d80c2"/>
<rect x="460.03" y="168.18" width="6.67" height="7.42" fill="#3d80c2"/>
<rect x="306.70" y="177.00" width="7.67" height="8.41" fill="#f8efea"/>
<rect x="313.37" y="177.00" width="7.67" height="8.41" fill="#f6f4f2"/>
<rect x="320.03" y="177.00" width="7.67" height="8.41" fill="#ebf0f2"/>
<rect x="326.70" y="177.00" width="7.67" height="8.41" fill="#e2ecf3"/>
<rect x="333.37" y="177.00" width="7.67" height="8.41" fill="#e2ecf3"/>
<rect x="340.03" y="177.00" width="7.67" height="8.41" fill="#e2ecf3"/>
<rect x="346.70" y="177.00" width="7.67" height="8.41" fill="#e2ecf3"/>
<rect x="353.37" y="177.00" width="7.67" height="8.41" fill="#e2ecf3"/>
<rect x="360.03" y="177.00" width="7.67" height="8.41" fill="#e8eef2"/>
<rect x="366.70" y="177.00" width="7.67" height="8.41" fill="#d7e8f2"/>
<rect x="373.37" y="177.00" width="7.67" height="8.41" fill="#d1e4f1"/>
<rect x="380.03" y="177.00" width="7.67" height="8.41" fill="#f8efea"/>
<rect x="386.70" y="177.00" width="7.67" height="8.41" fill="#f6f4f2"/>
<rect x="393.37" y="177.00" width="7.67" height="8.41" fill="#f6f4f2"/>
<rect x="400.03" y="177.00" width="7.67" height="8.41" fill="#f8eee8"/>
<rect x="406.70" y="177.00" width="7.67" height="8.41" fill="#fae6db"/>
<rect x="413.37" y="177.00" width="7.67" height="8.41" fill="#f6f4f2"/>
<rect x="420.03" y="177.00" width="7.67" height="8.41" fill="#741222"/>
<rect x="426.70" y="177.00" width="7.67" height="8.41" fill="#f09c80"/>
<rect x="433.37" y="177.00" width="7.67" height="8.41" fill="#e87a62"/>
<rect x="440.03" y="177.00" width="7.67" height="8.41" fill="#fae6db"/>
<rect x="446.70" y="177.00" width="7.67" height="8.41" fill="#f5b394"/>
<rect x="453.37" y="177.00" width="7.67" height="8.41" fill="#fae6db"/>
<rect x="460.03" y="177.00" width="6.67" height="8.41" fill="#fae6db"/>
<rect x="306.70" y="184.41" width="7.67" height="8.41" fill="#f8eee8"/>
<rect x="313.37" y="184.41" width="7.67" height="8.41" fill="#f0f2f2"/>
<rect x="320.03" y="184.41" width="7.67" height="8.41" fill="#d7e8f2"/>
<rect x="326.70" y="184.41" width="7.67" height="8.41" fill="#9fc8e4"/>
<rect x="333.37" y="184.41" width="7.67" height="8.41" fill="#9fc8e4"/>
<rect x="340.03" y="184.41" width="7.67" height="8.41" fill="#a2cae5"/>
<rect x="346.70" y="184.41" width="7.67" height="8.41" fill="#92c0e0"/>
<rect x="353.37" y="184.41" width="7.67" height="8.41" fill="#a2cae5"/>
<rect x="360.03" y="184.41" width="7.67" height="8.41" fill="#acd0e8"/>
<rect x="366.70" y="184.41" width="7.67" height="8.41" fill="#92c0e0"/>
<rect x="373.37" y="184.41" width="7.67" height="8.41" fill="#6aaad4"/>
<rect x="380.03" y="184.41" width="7.67" height="8.41" fill="#fae9e0"/>
<rect x="386.70" y="184.41" width="7.67" height="8.41" fill="#f3f3f2"/>
<rect x="393.37" y="184.41" width="7.67" height="8.41" fill="#f3f3f2"/>
<rect x="400.03" y="184.41" width="7.67" height="8.41" fill="#f7bea2"/>
<rect x="406.70" y="184.41" width="7.67" height="8.41" fill="#f8c7ad"/>
<rect x="413.37" y="184.41" width="7.67" height="8.41" fill="#fadac8"/>
<rect x="420.03" y="184.41" width="7.67" height="8.41" fill="#ea8068"/>
<rect x="426.70" y="184.41" width="7.67" height="8.41" fill="#741222"/>
<rect x="433.37" y="184.41" width="7.67" height="8.41" fill="#e87a62"/>
<rect x="440.03" y="184.41" width="7.67" height="8.41" fill="#f8efea"/>
<rect x="446.70" y="184.41" width="7.67" height="8.41" fill="#f6f4f2"/>
<rect x="453.37" y="184.41" width="7.67" height="8.41" fill="#d1e4f1"/>
<rect x="460.03" y="184.41" width="6.67" height="8.41" fill="#d1e4f1"/>
<rect x="306.70" y="191.83" width="7.67" height="8.41" fill="#e2ecf3"/>
<rect x="313.37" y="191.83" width="7.67" height="8.41" fill="#a2cae5"/>
<rect x="320.03" y="191.83" width="7.67" height="8.41" fill="#5da0cf"/>
<rect x="326.70" y="191.83" width="7.67" height="8.41" fill="#4a90c8"/>
<rect x="333.37" y="191.83" width="7.67" height="8.41" fill="#4084c3"/>
<rect x="340.03" y="191.83" width="7.67" height="8.41" fill="#4084c3"/>
<rect x="346.70" y="191.83" width="7.67" height="8.41" fill="#3a7cc0"/>
<rect x="353.37" y="191.83" width="7.67" height="8.41" fill="#4a90c8"/>
<rect x="360.03" y="191.83" width="7.67" height="8.41" fill="#4a90c8"/>
<rect x="366.70" y="191.83" width="7.67" height="8.41" fill="#2a68b8"/>
<rect x="373.37" y="191.83" width="7.67" height="8.41" fill="#2a68b8"/>
<rect x="380.03" y="191.83" width="7.67" height="8.41" fill="#f0f2f2"/>
<rect x="386.70" y="191.83" width="7.67" height="8.41" fill="#d7e8f2"/>
<rect x="393.37" y="191.83" width="7.67" height="8.41" fill="#d7e8f2"/>
<rect x="400.03" y="191.83" width="7.67" height="8.41" fill="#f3f3f2"/>
<rect x="406.70" y="191.83" width="7.67" height="8.41" fill="#f3f3f2"/>
<rect x="413.37" y="191.83" width="7.67" height="8.41" fill="#f3f3f2"/>
<rect x="420.03" y="191.83" width="7.67" height="8.41" fill="#e26753"/>
<rect x="426.70" y="191.83" width="7.67" height="8.41" fill="#e87a62"/>
<rect x="433.37" y="191.83" width="7.67" height="8.41" fill="#741222"/>
<rect x="440.03" y="191.83" width="7.67" height="8.41" fill="#fadac8"/>
<rect x="446.70" y="191.83" width="7.67" height="8.41" fill="#f8efea"/>
<rect x="453.37" y="191.83" width="7.67" height="8.41" fill="#f6f4f2"/>
<rect x="460.03" y="191.83" width="6.67" height="8.41" fill="#f0f2f2"/>
<rect x="306.70" y="199.24" width="7.67" height="8.41" fill="#a2cae5"/>
<rect x="313.37" y="199.24" width="7.67" height="8.41" fill="#4084c3"/>
<rect x="320.03" y="199.24" width="7.67" height="8.41" fill="#3a7cc0"/>
<rect x="326.70" y="199.24" width="7.67" height="8.41" fill="#2a68b8"/>
<rect x="333.37" y="199.24" width="7.67" height="8.41" fill="#215baa"/>
<rect x="340.03" y="199.24" width="7.67" height="8.41" fill="#215baa"/>
<rect x="346.70" y="199.24" width="7.67" height="8.41" fill="#1c53a2"/>
<rect x="353.37" y="199.24" width="7.67" height="8.41" fill="#2a68b8"/>
<rect x="360.03" y="199.24" width="7.67" height="8.41" fill="#3070bb"/>
<rect x="366.70" y="199.24" width="7.67" height="8.41" fill="#2a68b8"/>
<rect x="373.37" y="199.24" width="7.67" height="8.41" fill="#215baa"/>
<rect x="380.03" y="199.24" width="7.67" height="8.41" fill="#e2ecf3"/>
<rect x="386.70" y="199.24" width="7.67" height="8.41" fill="#c2ddee"/>
<rect x="393.37" y="199.24" width="7.67" height="8.41" fill="#c2ddee"/>
<rect x="400.03" y="199.24" width="7.67" height="8.41" fill="#f0f2f2"/>
<rect x="406.70" y="199.24" width="7.67" height="8.41" fill="#f0f2f2"/>
<rect x="413.37" y="199.24" width="7.67" height="8.41" fill="#e2ecf3"/>
<rect x="420.03" y="199.24" width="7.67" height="8.41" fill="#fae6db"/>
<rect x="426.70" y="199.24" width="7.67" height="8.41" fill="#f8eee8"/>
<rect x="433.37" y="199.24" width="7.67" height="8.41" fill="#f8c7ad"/>
<rect x="440.03" y="199.24" width="7.67" height="8.41" fill="#741222"/>
<rect x="446.70" y="199.24" width="7.67" height="8.41" fill="#f0f2f2"/>
<rect x="453.37" y="199.24" width="7.67" height="8.41" fill="#e2ecf3"/>
<rect x="460.03" y="199.24" width="6.67" height="8.41" fill="#92c0e0"/>
<rect x="306.70" y="206.66" width="7.67" height="8.41" fill="#e8eef2"/>
<rect x="313.37" y="206.66" width="7.67" height="8.41" fill="#e2ecf3"/>
<rect x="320.03" y="206.66" width="7.67" height="8.41" fill="#a2cae5"/>
<rect x="326.70" y="206.66" width="7.67" height="8.41" fill="#b6d6eb"/>
<rect x="333.37" y="206.66" width="7.67" height="8.41" fill="#c2ddee"/>
<rect x="340.03" y="206.66" width="7.67" height="8.41" fill="#c2ddee"/>
<rect x="346.70" y="206.66" width="7.67" height="8.41" fill="#b6d6eb"/>
<rect x="353.37" y="206.66" width="7.67" height="8.41" fill="#c2ddee"/>
<rect x="360.03" y="206.66" width="7.67" height="8.41" fill="#d1e4f1"/>
<rect x="366.70" y="206.66" width="7.67" height="8.41" fill="#9fc8e4"/>
<rect x="373.37" y="206.66" width="7.67" height="8.41" fill="#9fc8e4"/>
<rect x="380.03" y="206.66" width="7.67" height="8.41" fill="#e2ecf3"/>
<rect x="386.70" y="206.66" width="7.67" height="8.41" fill="#92c0e0"/>
<rect x="393.37" y="206.66" width="7.67" height="8.41" fill="#92c0e0"/>
<rect x="400.03" y="206.66" width="7.67" height="8.41" fill="#d7e8f2"/>
<rect x="406.70" y="206.66" width="7.67" height="8.41" fill="#e2ecf3"/>
<rect x="413.37" y="206.66" width="7.67" height="8.41" fill="#e2ecf3"/>
<rect x="420.03" y="206.66" width="7.67" height="8.41" fill="#f5b394"/>
<rect x="426.70" y="206.66" width="7.67" height="8.41" fill="#f8eee8"/>
<rect x="433.37" y="206.66" width="7.67" height="8.41" fill="#fae6db"/>
<rect x="440.03" y="206.66" width="7.67" height="8.41" fill="#eef1f2"/>
<rect x="446.70" y="206.66" width="7.67" height="8.41" fill="#741222"/>
<rect x="453.37" y="206.66" width="7.67" height="8.41" fill="#f8efea"/>
<rect x="460.03" y="206.66" width="6.67" height="8.41" fill="#fadac8"/>
<rect x="306.70" y="214.07" width="7.67" height="8.41" fill="#4a90c8"/>
<rect x="313.37" y="214.07" width="7.67" height="8.41" fill="#4a90c8"/>
<rect x="320.03" y="214.07" width="7.67" height="8.41" fill="#9fc8e4"/>
<rect x="326.70" y="214.07" width="7.67" height="8.41" fill="#5da0cf"/>
<rect x="333.37" y="214.07" width="7.67" height="8.41" fill="#4a90c8"/>
<rect x="340.03" y="214.07" width="7.67" height="8.41" fill="#4a90c8"/>
<rect x="346.70" y="214.07" width="7.67" height="8.41" fill="#4a90c8"/>
<rect x="353.37" y="214.07" width="7.67" height="8.41" fill="#4a90c8"/>
<rect x="360.03" y="214.07" width="7.67" height="8.41" fill="#3d80c2"/>
<rect x="366.70" y="214.07" width="7.67" height="8.41" fill="#5da0cf"/>
<rect x="373.37" y="214.07" width="7.67" height="8.41" fill="#5da0cf"/>
<rect x="380.03" y="214.07" width="7.67" height="8.41" fill="#acd0e8"/>
<rect x="386.70" y="214.07" width="7.67" height="8.41" fill="#a2cae5"/>
<rect x="393.37" y="214.07" width="7.67" height="8.41" fill="#a2cae5"/>
<rect x="400.03" y="214.07" width="7.67" height="8.41" fill="#f3f3f2"/>
<rect x="406.70" y="214.07" width="7.67" height="8.41" fill="#a2cae5"/>
<rect x="413.37" y="214.07" width="7.67" height="8.41" fill="#4084c3"/>
<rect x="420.03" y="214.07" width="7.67" height="8.41" fill="#fae6db"/>
<rect x="426.70" y="214.07" width="7.67" height="8.41" fill="#d7e8f2"/>
<rect x="433.37" y="214.07" width="7.67" height="8.41" fill="#f6f4f2"/>
<rect x="440.03" y="214.07" width="7.67" height="8.41" fill="#f8efea"/>
<rect x="446.70" y="214.07" width="7.67" height="8.41" fill="#f8efea"/>
<rect x="453.37" y="214.07" width="7.67" height="8.41" fill="#741222"/>
<rect x="460.03" y="214.07" width="6.67" height="8.41" fill="#fae9e0"/>
<rect x="306.70" y="221.49" width="7.67" height="7.41" fill="#4084c3"/>
<rect x="313.37" y="221.49" width="7.67" height="7.41" fill="#e0ebf3"/>
<rect x="320.03" y="221.49" width="7.67" height="7.41" fill="#3070bb"/>
<rect x="326.70" y="221.49" width="7.67" height="7.41" fill="#a2cae5"/>
<rect x="333.37" y="221.49" width="7.67" height="7.41" fill="#a2cae5"/>
<rect x="340.03" y="221.49" width="7.67" height="7.41" fill="#92c0e0"/>
<rect x="346.70" y="221.49" width="7.67" height="7.41" fill="#9fc8e4"/>
<rect x="353.37" y="221.49" width="7.67" height="7.41" fill="#92c0e0"/>
<rect x="360.03" y="221.49" width="7.67" height="7.41" fill="#9fc8e4"/>
<rect x="366.70" y="221.49" width="7.67" height="7.41" fill="#3d80c2"/>
<rect x="373.37" y="221.49" width="7.67" height="7.41" fill="#92c0e0"/>
<rect x="380.03" y="221.49" width="7.67" height="7.41" fill="#3d80c2"/>
<rect x="386.70" y="221.49" width="7.67" height="7.41" fill="#1c53a2"/>
<rect x="393.37" y="221.49" width="7.67" height="7.41" fill="#2663b2"/>
<rect x="400.03" y="221.49" width="7.67" height="7.41" fill="#4084c3"/>
<rect x="406.70" y="221.49" width="7.67" height="7.41" fill="#4a90c8"/>
<rect x="413.37" y="221.49" width="7.67" height="7.41" fill="#5da0cf"/>
<rect x="420.03" y="221.49" width="7.67" height="7.41" fill="#fae6db"/>
<rect x="426.70" y="221.49" width="7.67" height="7.41" fill="#d1e4f1"/>
<rect x="433.37" y="221.49" width="7.67" height="7.41" fill="#f6f4f2"/>
<rect x="440.03" y="221.49" width="7.67" height="7.41" fill="#92c0e0"/>
<rect x="446.70" y="221.49" width="7.67" height="7.41" fill="#fae6db"/>
<rect x="453.37" y="221.49" width="7.67" height="7.41" fill="#fae6db"/>
<rect x="460.03" y="221.49" width="6.67" height="7.41" fill="#741222"/>
</g>
<path d="M310.03,33.80V31.00H316.70V33.80M313.37,31.00V30.00H323.37V33.80M330.03,33.80V31.00H336.70V33.80M343.37,33.80V31.20H350.03V33.80M333.37,31.00V30.50H346.70V31.20M356.70,33.80V31.00H363.37V33.80M370.03,33.80V31.30H376.70V33.80M360.03,31.00V30.20H373.37V31.30M340.03,30.50V29.50H366.70V30.20M318.37,30.00V28.70H353.37V29.50M383.37,33.80V31.20H390.03V33.80M386.70,31.20V30.30H396.70V33.80M403.37,33.80V31.00H410.03V33.80M406.70,31.00V30.00H416.70V33.80M391.70,30.30V28.00H411.70V30.00M423.37,33.80V31.20H430.03V33.80M436.70,33.80V30.80H443.37V33.80M426.70,31.20V29.60H440.03V30.80M450.03,33.80V31.30H456.70V33.80M453.37,31.30V30.00H463.37V33.80M433.37,29.60V27.30H458.37V30.00M401.70,28.00V25.00H445.87V27.30M335.87,28.70V23.40H423.78V25.00" fill="none" stroke="#333333" stroke-width="0.75"/>
<text x="364.00" y="16.80" font-size="10.0" fill="#222" textLength="45.80" lengthAdjust="spacingAndGlyphs">Enhancers</text>
<text x="268.10" y="17.00" font-size="12.2" fill="#000" font-weight="bold">B</text>
<text x="473.00" y="42.10" font-size="7.0" fill="#3a3a3a" textLength="33.40" lengthAdjust="spacingAndGlyphs" stroke="#3a3a3a" stroke-width="0.18">Correlation</text>
<defs><linearGradient id="cbB" x1="0" y1="0" x2="0" y2="1"><stop offset="0" stop-color="#7a0a1e"/><stop offset="0.08" stop-color="#b2182b"/><stop offset="0.17" stop-color="#d6604d"/><stop offset="0.25" stop-color="#f4a582"/><stop offset="0.31" stop-color="#fddbc7"/><stop offset="0.38" stop-color="#f7f7f7"/><stop offset="0.45" stop-color="#d1e5f0"/><stop offset="0.52" stop-color="#92c5de"/><stop offset="0.58" stop-color="#4393c3"/><stop offset="0.64" stop-color="#1d5ea6"/><stop offset="0.70" stop-color="#0b3570"/><stop offset="1" stop-color="#0a2c5e"/></linearGradient></defs>
<rect x="472.50" y="47.10" width="6.5" height="29.1" fill="url(#cbB)"/>
<path d="M472.50,48.00h1.8M477.20,48.00h1.8" stroke="#fff" stroke-width="0.8"/>
<text x="481.80" y="50.30" font-size="6.6" fill="#3a3a3a" textLength="2.20" lengthAdjust="spacingAndGlyphs" stroke="#3a3a3a" stroke-width="0.18">1</text>
<path d="M472.50,56.80h1.8M477.20,56.80h1.8" stroke="#fff" stroke-width="0.8"/>
<text x="481.80" y="59.10" font-size="6.6" fill="#3a3a3a" textLength="10.20" lengthAdjust="spacingAndGlyphs" stroke="#3a3a3a" stroke-width="0.18">0.8</text>
<path d="M472.50,65.60h1.8M477.20,65.60h1.8" stroke="#fff" stroke-width="0.8"/>
<text x="481.80" y="67.90" font-size="6.6" fill="#3a3a3a" textLength="10.20" lengthAdjust="spacingAndGlyphs" stroke="#3a3a3a" stroke-width="0.18">0.6</text>
<path d="M472.50,74.40h1.8M477.20,74.40h1.8" stroke="#fff" stroke-width="0.8"/>
<text x="481.80" y="76.70" font-size="6.6" fill="#3a3a3a" textLength="10.20" lengthAdjust="spacingAndGlyphs" stroke="#3a3a3a" stroke-width="0.18">0.4</text>
<text x="7.00" y="255.60" font-size="12.2" fill="#000" font-weight="bold">C</text>
<circle cx="62.4" cy="265.5" r="2.35" fill="#44205f"/>
<circle cx="114.4" cy="265.5" r="2.35" fill="#3ea24a"/>
<circle cx="173.6" cy="265.5" r="2.35" fill="#ee9a24"/>
<text x="68.50" y="268.00" font-size="6.6" fill="#333" textLength="33.20" lengthAdjust="spacingAndGlyphs" stroke="#333" stroke-width="0.18">DUX4/ERG</text>
<text x="120.40" y="268.00" font-size="6.6" fill="#333" textLength="40.70" lengthAdjust="spacingAndGlyphs" stroke="#333" stroke-width="0.18">ETV6–RUNX1</text>
<text x="179.80" y="268.00" font-size="6.6" fill="#333" textLength="38.90" lengthAdjust="spacingAndGlyphs" stroke="#333" stroke-width="0.18">Hyperdiploid</text>
<rect x="41.3" y="278.6" width="92.4" height="11.8" rx="2.2" fill="#fffdf8" stroke="#bba58c" stroke-width="0.9"/>
<rect x="142.5" y="278.6" width="95.3" height="11.8" rx="2.2" fill="#fcfaff" stroke="#6f6682" stroke-width="0.9"/>
<text x="68.80" y="287.10" font-size="8.2" fill="#333" textLength="37.70" lengthAdjust="spacingAndGlyphs" stroke="#333" stroke-width="0.18">Promoter</text>
<text x="171.50" y="287.10" font-size="8.2" fill="#333" textLength="37.00" lengthAdjust="spacingAndGlyphs" stroke="#333" stroke-width="0.18">Enhancer</text>
<path d="M38.4,292.5V420.8H136.6M142.7,420.8H240.8" fill="none" stroke="#1a1a1a" stroke-width="1.1"/>
<path d="M35.8,301.1H38.5" stroke="#1a1a1a" stroke-width="0.9"/>
<text x="32.00" y="303.50" font-size="6.6" fill="#3a3a3a" text-anchor="end" stroke="#3a3a3a" stroke-width="0.18">60</text>
<path d="M35.8,325.1H38.5" stroke="#1a1a1a" stroke-width="0.9"/>
<text x="32.00" y="327.50" font-size="6.6" fill="#3a3a3a" text-anchor="end" stroke="#3a3a3a" stroke-width="0.18">40</text>
<path d="M35.8,349.2H38.5" stroke="#1a1a1a" stroke-width="0.9"/>
<text x="32.00" y="351.60" font-size="6.6" fill="#3a3a3a" text-anchor="end" stroke="#3a3a3a" stroke-width="0.18">20</text>
<path d="M35.8,373.3H38.5" stroke="#1a1a1a" stroke-width="0.9"/>
<text x="32.00" y="375.70" font-size="6.6" fill="#3a3a3a" text-anchor="end" stroke="#3a3a3a" stroke-width="0.18">0</text>
<path d="M35.8,397.4H38.5" stroke="#1a1a1a" stroke-width="0.9"/>
<text x="32.00" y="399.80" font-size="6.6" fill="#3a3a3a" text-anchor="end" stroke="#3a3a3a" stroke-width="0.18">−20</text>
<path d="M57.2,420.8V423.8" stroke="#1a1a1a" stroke-width="0.9"/>
<text x="57.20" y="433.00" font-size="6.5" fill="#3a3a3a" text-anchor="middle" stroke="#3a3a3a" stroke-width="0.18">−25</text>
<path d="M82.6,420.8V423.8" stroke="#1a1a1a" stroke-width="0.9"/>
<text x="82.60" y="433.00" font-size="6.5" fill="#3a3a3a" text-anchor="middle" stroke="#3a3a3a" stroke-width="0.18">0</text>
<path d="M108.0,420.8V423.8" stroke="#1a1a1a" stroke-width="0.9"/>
<text x="108.00" y="433.00" font-size="6.5" fill="#3a3a3a" text-anchor="middle" stroke="#3a3a3a" stroke-width="0.18">25</text>
<path d="M133.4,420.8V423.8" stroke="#1a1a1a" stroke-width="0.9"/>
<text x="133.40" y="433.00" font-size="6.5" fill="#3a3a3a" text-anchor="middle" stroke="#3a3a3a" stroke-width="0.18">50</text>
<path d="M161.2,420.8V423.8" stroke="#1a1a1a" stroke-width="0.9"/>
<text x="161.20" y="433.00" font-size="6.5" fill="#3a3a3a" text-anchor="middle" stroke="#3a3a3a" stroke-width="0.18">−25</text>
<path d="M186.2,420.8V423.8" stroke="#1a1a1a" stroke-width="0.9"/>
<text x="186.20" y="433.00" font-size="6.5" fill="#3a3a3a" text-anchor="middle" stroke="#3a3a3a" stroke-width="0.18">0</text>
<path d="M211.4,420.8V423.8" stroke="#1a1a1a" stroke-width="0.9"/>
<text x="211.40" y="433.00" font-size="6.5" fill="#3a3a3a" text-anchor="middle" stroke="#3a3a3a" stroke-width="0.18">25</text>
<path d="M236.9,420.8V423.8" stroke="#1a1a1a" stroke-width="0.9"/>
<text x="236.90" y="433.00" font-size="6.5" fill="#3a3a3a" text-anchor="middle" stroke="#3a3a3a" stroke-width="0.18">50</text>
<text x="133.80" y="445.50" font-size="9.7" fill="#333" textLength="11.40" lengthAdjust="spacingAndGlyphs">PC1</text>
<text transform="translate(14.9,356.7) rotate(-90)" font-size="9.7" fill="#333" text-anchor="middle" textLength="12.4" lengthAdjust="spacingAndGlyphs">PC2</text>
<circle cx="116.2" cy="358.3" r="1.2" fill="#e3912a"/>
<circle cx="113.7" cy="367.0" r="1.2" fill="#e3912a"/>
<circle cx="113.1" cy="369.4" r="1.2" fill="#e3912a"/>
<circle cx="117.7" cy="367.3" r="1.2" fill="#e3912a"/>
<circle cx="115.3" cy="374.7" r="1.2" fill="#e3912a"/>
<circle cx="116.5" cy="376.3" r="1.2" fill="#e3912a"/>
<circle cx="97.8" cy="376.6" r="1.2" fill="#e3912a"/>
<circle cx="104.0" cy="382.6" r="1.2" fill="#e3912a"/>
<circle cx="107.6" cy="387.0" r="1.2" fill="#e3912a"/>
<circle cx="81.5" cy="388.7" r="1.2" fill="#e3912a"/>
<circle cx="83.5" cy="391.5" r="1.2" fill="#e3912a"/>
<circle cx="146.5" cy="367.0" r="1.2" fill="#e3912a"/>
<circle cx="147.5" cy="366.0" r="1.2" fill="#e3912a"/>
<circle cx="148.8" cy="365.1" r="1.2" fill="#e3912a"/>
<circle cx="149.4" cy="366.0" r="1.2" fill="#e3912a"/>
<circle cx="153.0" cy="372.6" r="1.2" fill="#e3912a"/>
<circle cx="155.7" cy="372.6" r="1.2" fill="#e3912a"/>
<circle cx="157.6" cy="373.5" r="1.2" fill="#e3912a"/>
<circle cx="150.7" cy="378.4" r="1.2" fill="#e3912a"/>
<circle cx="162.9" cy="383.2" r="1.2" fill="#e3912a"/>
<circle cx="169.1" cy="369.0" r="1.2" fill="#e3912a"/>
<circle cx="180.4" cy="387.2" r="1.2" fill="#e3912a"/>
<circle cx="69.0" cy="369.2" r="1.2" fill="#357f45"/>
<circle cx="74.6" cy="367.7" r="1.2" fill="#357f45"/>
<circle cx="79.7" cy="373.0" r="1.2" fill="#357f45"/>
<circle cx="65.3" cy="380.5" r="1.2" fill="#357f45"/>
<circle cx="50.1" cy="386.3" r="1.2" fill="#357f45"/>
<circle cx="49.3" cy="399.9" r="1.2" fill="#357f45"/>
<circle cx="216.7" cy="398.4" r="1.2" fill="#357f45"/>
<circle cx="214.7" cy="402.0" r="1.2" fill="#357f45"/>
<circle cx="209.0" cy="404.3" r="1.2" fill="#357f45"/>
<circle cx="201.6" cy="406.0" r="1.2" fill="#357f45"/>
<circle cx="197.5" cy="413.1" r="1.2" fill="#357f45"/>
<circle cx="201.2" cy="414.8" r="1.2" fill="#357f45"/>
<circle cx="50.4" cy="296.4" r="1.2" fill="#24102f"/>
<circle cx="76.2" cy="343.9" r="1.2" fill="#24102f"/>
<circle cx="53.9" cy="376.2" r="1.2" fill="#24102f"/>
<circle cx="56.8" cy="382.4" r="1.2" fill="#24102f"/>
<circle cx="56.8" cy="393.5" r="1.2" fill="#24102f"/>
<circle cx="64.8" cy="387.7" r="1.2" fill="#24102f"/>
<circle cx="67.6" cy="370.4" r="1.2" fill="#24102f"/>
<circle cx="203.1" cy="314.4" r="1.2" fill="#24102f"/>
<circle cx="209.5" cy="329.1" r="1.2" fill="#24102f"/>
<circle cx="210.4" cy="337.7" r="1.2" fill="#24102f"/>
<circle cx="212.2" cy="352.6" r="1.2" fill="#24102f"/>
<circle cx="224.6" cy="360.5" r="1.2" fill="#24102f"/>
<circle cx="233.5" cy="360.4" r="1.2" fill="#24102f"/>
<circle cx="218.8" cy="373.3" r="1.2" fill="#24102f"/>
<text x="267.80" y="255.70" font-size="12.2" fill="#000" font-weight="bold">D</text>
<path d="M293.5,266.2H414.6M293.5,264.2V268.2M414.6,264.2V268.2" stroke="#333" stroke-width="1.1" fill="none"/>
<text x="343.40" y="264.30" font-size="7.4" fill="#333" textLength="19.70" lengthAdjust="spacingAndGlyphs" stroke="#333" stroke-width="0.18">100 kb</text>
<path d="M267.4,275.4H365.1" stroke="#444" stroke-width="0.7" stroke-dasharray="0.8,0.8"/>
<path d="M378.9,275.4H513.7" stroke="#444" stroke-width="0.7" stroke-dasharray="0.8,0.8"/>
<rect x="299.7" y="274.4" width="13.10" height="2.0" fill="#111"/>
<rect x="315.0" y="274.4" width="4.40" height="2.0" fill="#111"/>
<rect x="358.6" y="274.4" width="6.50" height="2.0" fill="#111"/>
<rect x="379.4" y="274.4" width="4.00" height="2.0" fill="#111"/>
<path d="M296.4,281.5H299.4M297.4,280.6L296.4,281.5L297.4,282.4" stroke="#333" stroke-width="0.8" fill="none"/>
<text x="304.80" y="283.90" font-size="8.0" fill="#222" textLength="37.50" lengthAdjust="spacingAndGlyphs" font-style="italic" stroke="#222" stroke-width="0.18">EXTL3-AS1</text>
<text x="441.30" y="273.60" font-size="8.4" fill="#222" textLength="24.80" lengthAdjust="spacingAndGlyphs" font-style="italic" stroke="#222" stroke-width="0.18">INTS9</text>
<rect x="380.1" y="277.3" width="4.6" height="151.5" fill="#d8e1ed"/>
<rect x="388.8" y="277.3" width="4.5" height="151.5" fill="#d8e1ed"/>
<path d="M269,295.60H415.7" stroke="#1d3c88" stroke-width="0.75" opacity="0.3" stroke-dasharray="3.5,0.5,2.2,0.6,5,0.4,1.5,0.5"/>
<path d="M316.41,295.90L317.21,295.10L318.01,295.90Z" fill="#1d3c88" opacity="0.30"/>
<path d="M326.54,295.90L327.34,295.10L328.14,295.90Z" fill="#1d3c88" opacity="0.30"/>
<path d="M280.54,295.90L281.34,294.70L282.14,295.90Z" fill="#1d3c88" opacity="0.30"/>
<path d="M283.63,295.90L284.43,294.70L285.23,295.90Z" fill="#1d3c88" opacity="0.30"/>
<path d="M278.48,295.90L279.28,294.70L280.08,295.90Z" fill="#1d3c88" opacity="0.30"/>
<path d="M300.84,295.90L301.64,295.10L302.44,295.90Z" fill="#1d3c88" opacity="0.30"/>
<path d="M415.7,295.60H512" stroke="#999" stroke-width="0.5" opacity="0.3" stroke-dasharray="0.8,0.8"/>
<path d="M297.40,295.90L298.40,294.94L298.80,293.95L299.10,292.60L299.70,292.60L300.00,293.95L300.40,294.94L301.40,295.90Z" fill="#1d3c88"/>
<path d="M306.62,295.90L307.30,294.80L307.90,294.80L308.58,295.90Z" fill="#1d3c88"/>
<path d="M381.50,295.90L381.90,294.10L382.50,294.10L382.90,295.90Z" fill="#1d3c88"/>
<path d="M389.90,295.90L390.50,294.06L390.74,291.75L390.80,288.60L391.40,288.60L391.46,291.75L391.70,294.06L392.30,295.90Z" fill="#1d3c88"/>
<text x="419.50" y="291.60" font-size="7.0" fill="#333" textLength="43.40" lengthAdjust="spacingAndGlyphs" stroke="#333" stroke-width="0.18">hyperdiploid 1</text>
<text x="470.90" y="291.60" font-size="7.0" fill="#333" textLength="38.50" lengthAdjust="spacingAndGlyphs" stroke="#333" stroke-width="0.18">[0 - 6173.13]</text>
<path d="M269,308.67H415.7" stroke="#e8b22c" stroke-width="0.75" opacity="0.22" stroke-dasharray="3.5,0.5,2.2,0.6,5,0.4,1.5,0.5"/>
<path d="M332.08,308.97L332.88,308.17L333.68,308.97Z" fill="#e8b22c" opacity="0.22"/>
<path d="M304.54,308.97L305.34,307.77L306.14,308.97Z" fill="#e8b22c" opacity="0.22"/>
<path d="M330.78,308.97L331.58,307.77L332.38,308.97Z" fill="#e8b22c" opacity="0.22"/>
<path d="M287.87,308.97L288.67,308.17L289.47,308.97Z" fill="#e8b22c" opacity="0.22"/>
<path d="M360.19,308.97L360.99,307.77L361.79,308.97Z" fill="#e8b22c" opacity="0.22"/>
<path d="M405.44,308.97L406.24,307.77L407.04,308.97Z" fill="#e8b22c" opacity="0.22"/>
<path d="M415.7,308.67H512" stroke="#999" stroke-width="0.5" opacity="0.3" stroke-dasharray="0.8,0.8"/>
<path d="M297.40,308.97L298.40,307.57L298.80,305.92L299.10,303.67L299.70,303.67L300.00,305.92L300.40,307.57L301.40,308.97Z" fill="#e8b22c"/>
<text x="419.50" y="304.63" font-size="7.0" fill="#333" textLength="43.40" lengthAdjust="spacingAndGlyphs" stroke="#333" stroke-width="0.18">hyperdiploid 2</text>
<text x="470.90" y="304.63" font-size="7.0" fill="#333" textLength="38.50" lengthAdjust="spacingAndGlyphs" stroke="#333" stroke-width="0.18">[0 - 6173.13]</text>
<path d="M269,321.74H415.7" stroke="#2e9a3e" stroke-width="0.75" opacity="0.22" stroke-dasharray="3.5,0.5,2.2,0.6,5,0.4,1.5,0.5"/>
<path d="M353.76,322.04L354.56,321.24L355.36,322.04Z" fill="#2e9a3e" opacity="0.22"/>
<path d="M409.51,322.04L410.31,321.24L411.11,322.04Z" fill="#2e9a3e" opacity="0.22"/>
<path d="M349.64,322.04L350.44,321.24L351.24,322.04Z" fill="#2e9a3e" opacity="0.22"/>
<path d="M311.53,322.04L312.33,321.24L313.13,322.04Z" fill="#2e9a3e" opacity="0.22"/>
<path d="M347.36,322.04L348.16,320.84L348.96,322.04Z" fill="#2e9a3e" opacity="0.22"/>
<path d="M314.22,322.04L315.02,320.84L315.82,322.04Z" fill="#2e9a3e" opacity="0.22"/>
<path d="M415.7,321.74H512" stroke="#999" stroke-width="0.5" opacity="0.3" stroke-dasharray="0.8,0.8"/>
<path d="M297.40,322.04L298.40,320.73L298.80,319.21L299.10,317.14L299.70,317.14L300.00,319.21L300.40,320.73L301.40,322.04Z" fill="#2e9a3e"/>
<path d="M381.20,322.04L381.70,320.86L381.90,319.54L381.90,317.74L382.50,317.74L382.50,319.54L382.70,320.86L383.20,322.04Z" fill="#2e9a3e"/>
<path d="M389.90,322.04L390.50,319.54L390.74,316.24L390.80,311.74L391.40,311.74L391.46,316.24L391.70,319.54L392.30,322.04Z" fill="#2e9a3e"/>
<text x="419.50" y="317.66" font-size="7.0" fill="#333" textLength="43.40" lengthAdjust="spacingAndGlyphs" stroke="#333" stroke-width="0.18">hyperdiploid 3</text>
<text x="470.90" y="317.66" font-size="7.0" fill="#333" textLength="38.50" lengthAdjust="spacingAndGlyphs" stroke="#333" stroke-width="0.18">[0 - 6173.13]</text>
<path d="M269,334.81H415.7" stroke="#9c9a48" stroke-width="0.75" opacity="0.25" stroke-dasharray="3.5,0.5,2.2,0.6,5,0.4,1.5,0.5"/>
<path d="M295.99,335.11L296.79,333.91L297.59,335.11Z" fill="#9c9a48" opacity="0.25"/>
<path d="M351.71,335.11L352.51,334.31L353.31,335.11Z" fill="#9c9a48" opacity="0.25"/>
<path d="M323.34,335.11L324.14,333.91L324.94,335.11Z" fill="#9c9a48" opacity="0.25"/>
<path d="M371.82,335.11L372.62,333.91L373.42,335.11Z" fill="#9c9a48" opacity="0.25"/>
<path d="M278.71,335.11L279.51,334.31L280.31,335.11Z" fill="#9c9a48" opacity="0.25"/>
<path d="M341.04,335.11L341.84,333.91L342.64,335.11Z" fill="#9c9a48" opacity="0.25"/>
<path d="M415.7,334.81H512" stroke="#999" stroke-width="0.5" opacity="0.3" stroke-dasharray="0.8,0.8"/>
<path d="M297.40,335.11L298.40,333.71L298.80,332.06L299.10,329.81L299.70,329.81L300.00,332.06L300.40,333.71L301.40,335.11Z" fill="#9c9a48"/>
<text x="419.50" y="330.69" font-size="7.0" fill="#333" textLength="43.40" lengthAdjust="spacingAndGlyphs" stroke="#333" stroke-width="0.18">hyperdiploid 4</text>
<text x="470.90" y="330.69" font-size="7.0" fill="#333" textLength="38.50" lengthAdjust="spacingAndGlyphs" stroke="#333" stroke-width="0.18">[0 - 6173.13]</text>
<path d="M269,347.88H415.7" stroke="#c8103c" stroke-width="0.75" opacity="0.3" stroke-dasharray="3.5,0.5,2.2,0.6,5,0.4,1.5,0.5"/>
<path d="M331.22,348.18L332.02,347.18L332.82,348.18Z" fill="#c8103c" opacity="0.30"/>
<path d="M336.64,348.18L337.44,347.18L338.24,348.18Z" fill="#c8103c" opacity="0.30"/>
<path d="M321.80,348.18L322.60,347.38L323.40,348.18Z" fill="#c8103c" opacity="0.30"/>
<path d="M383.56,348.18L384.36,346.98L385.16,348.18Z" fill="#c8103c" opacity="0.30"/>
<path d="M381.48,348.18L382.28,347.38L383.08,348.18Z" fill="#c8103c" opacity="0.30"/>
<path d="M352.17,348.18L352.97,346.98L353.77,348.18Z" fill="#c8103c" opacity="0.30"/>
<path d="M415.7,347.88H512" stroke="#999" stroke-width="0.5" opacity="0.3" stroke-dasharray="0.8,0.8"/>
<path d="M297.40,348.18L298.40,346.12L298.80,343.48L299.10,339.88L299.70,339.88L300.00,343.48L300.40,346.12L301.40,348.18Z" fill="#c8103c"/>
<path d="M306.62,348.18L307.30,347.28L307.90,347.28L308.58,348.18Z" fill="#c8103c"/>
<path d="M381.20,348.18L381.70,347.22L381.90,346.23L381.90,344.88L382.50,344.88L382.50,346.23L382.70,347.22L383.20,348.18Z" fill="#c8103c"/>
<path d="M389.90,348.18L390.50,346.34L390.74,344.03L390.80,340.88L391.40,340.88L391.46,344.03L391.70,346.34L392.30,348.18Z" fill="#c8103c"/>
<text x="419.50" y="343.72" font-size="7.0" fill="#333" textLength="43.40" lengthAdjust="spacingAndGlyphs" stroke="#333" stroke-width="0.18">hyperdiploid 5</text>
<text x="470.90" y="343.72" font-size="7.0" fill="#333" textLength="38.50" lengthAdjust="spacingAndGlyphs" stroke="#333" stroke-width="0.18">[0 - 6173.13]</text>
<path d="M269,360.95H415.7" stroke="#d0206e" stroke-width="0.75" opacity="0.25" stroke-dasharray="3.5,0.5,2.2,0.6,5,0.4,1.5,0.5"/>
<path d="M340.85,361.25L341.65,360.25L342.45,361.25Z" fill="#d0206e" opacity="0.25"/>
<path d="M374.29,361.25L375.09,360.25L375.89,361.25Z" fill="#d0206e" opacity="0.25"/>
<path d="M357.10,361.25L357.90,360.45L358.70,361.25Z" fill="#d0206e" opacity="0.25"/>
<path d="M287.05,361.25L287.85,360.25L288.65,361.25Z" fill="#d0206e" opacity="0.25"/>
<path d="M293.74,361.25L294.54,360.25L295.34,361.25Z" fill="#d0206e" opacity="0.25"/>
<path d="M291.89,361.25L292.69,360.25L293.49,361.25Z" fill="#d0206e" opacity="0.25"/>
<path d="M415.7,360.95H512" stroke="#999" stroke-width="0.5" opacity="0.3" stroke-dasharray="0.8,0.8"/>
<path d="M297.40,361.25L298.40,359.63L298.80,357.65L299.10,354.95L299.70,354.95L300.00,357.65L300.40,359.63L301.40,361.25Z" fill="#d0206e"/>
<path d="M306.62,361.25L307.30,360.15L307.90,360.15L308.58,361.25Z" fill="#d0206e"/>
<text x="419.50" y="356.75" font-size="7.0" fill="#333" textLength="43.40" lengthAdjust="spacingAndGlyphs" stroke="#333" stroke-width="0.18">hyperdiploid 6</text>
<text x="470.90" y="356.75" font-size="7.0" fill="#333" textLength="38.50" lengthAdjust="spacingAndGlyphs" stroke="#333" stroke-width="0.18">[0 - 6173.13]</text>
<path d="M269,374.02H415.7" stroke="#3a2a2a" stroke-width="0.75" opacity="0.4" stroke-dasharray="3.5,0.5,2.2,0.6,5,0.4,1.5,0.5"/>
<path d="M330.38,374.32L331.18,373.12L331.98,374.32Z" fill="#3a2a2a" opacity="0.40"/>
<path d="M281.28,374.32L282.08,373.12L282.88,374.32Z" fill="#3a2a2a" opacity="0.40"/>
<path d="M351.97,374.32L352.77,373.32L353.57,374.32Z" fill="#3a2a2a" opacity="0.40"/>
<path d="M318.74,374.32L319.54,373.32L320.34,374.32Z" fill="#3a2a2a" opacity="0.40"/>
<path d="M355.02,374.32L355.82,373.12L356.62,374.32Z" fill="#3a2a2a" opacity="0.40"/>
<path d="M383.92,374.32L384.72,373.52L385.52,374.32Z" fill="#3a2a2a" opacity="0.40"/>
<path d="M415.7,374.02H512" stroke="#999" stroke-width="0.5" opacity="0.3" stroke-dasharray="0.8,0.8"/>
<path d="M297.40,374.32L298.40,372.70L298.80,370.72L299.10,368.02L299.70,368.02L300.00,370.72L300.40,372.70L301.40,374.32Z" fill="#3a2a2a"/>
<path d="M306.62,374.32L307.30,373.42L307.90,373.42L308.58,374.32Z" fill="#3a2a2a"/>
<text x="419.50" y="369.78" font-size="7.0" fill="#333" textLength="43.40" lengthAdjust="spacingAndGlyphs" stroke="#333" stroke-width="0.18">hyperdiploid 7</text>
<text x="470.90" y="369.78" font-size="7.0" fill="#333" textLength="38.50" lengthAdjust="spacingAndGlyphs" stroke="#333" stroke-width="0.18">[0 - 6173.13]</text>
<path d="M269,387.09H415.7" stroke="#5a5ab8" stroke-width="0.75" opacity="0.25" stroke-dasharray="3.5,0.5,2.2,0.6,5,0.4,1.5,0.5"/>
<path d="M390.06,387.39L390.86,386.39L391.66,387.39Z" fill="#5a5ab8" opacity="0.25"/>
<path d="M337.85,387.39L338.65,386.19L339.45,387.39Z" fill="#5a5ab8" opacity="0.25"/>
<path d="M279.48,387.39L280.28,386.19L281.08,387.39Z" fill="#5a5ab8" opacity="0.25"/>
<path d="M370.30,387.39L371.10,386.19L371.90,387.39Z" fill="#5a5ab8" opacity="0.25"/>
<path d="M352.67,387.39L353.47,386.19L354.27,387.39Z" fill="#5a5ab8" opacity="0.25"/>
<path d="M387.49,387.39L388.29,386.39L389.09,387.39Z" fill="#5a5ab8" opacity="0.25"/>
<path d="M415.7,387.09H512" stroke="#999" stroke-width="0.5" opacity="0.3" stroke-dasharray="0.8,0.8"/>
<path d="M297.40,387.39L298.40,385.99L298.80,384.34L299.10,382.09L299.70,382.09L300.00,384.34L300.40,385.99L301.40,387.39Z" fill="#5a5ab8"/>
<path d="M381.50,387.39L381.90,386.09L382.50,386.09L382.90,387.39Z" fill="#5a5ab8"/>
<path d="M390.26,387.39L390.80,385.09L391.40,385.09L391.94,387.39Z" fill="#5a5ab8"/>
<text x="419.50" y="382.81" font-size="7.0" fill="#333" textLength="43.40" lengthAdjust="spacingAndGlyphs" stroke="#333" stroke-width="0.18">hyperdiploid 8</text>
<text x="470.90" y="382.81" font-size="7.0" fill="#333" textLength="38.50" lengthAdjust="spacingAndGlyphs" stroke="#333" stroke-width="0.18">[0 - 6173.13]</text>
<path d="M269,400.16H415.7" stroke="#3a2415" stroke-width="0.75" opacity="0.45" stroke-dasharray="3.5,0.5,2.2,0.6,5,0.4,1.5,0.5"/>
<path d="M372.46,400.46L373.26,399.26L374.06,400.46Z" fill="#3a2415" opacity="0.45"/>
<path d="M319.72,400.46L320.52,399.46L321.32,400.46Z" fill="#3a2415" opacity="0.45"/>
<path d="M320.92,400.46L321.72,399.26L322.52,400.46Z" fill="#3a2415" opacity="0.45"/>
<path d="M286.91,400.46L287.71,399.66L288.51,400.46Z" fill="#3a2415" opacity="0.45"/>
<path d="M301.34,400.46L302.14,399.46L302.94,400.46Z" fill="#3a2415" opacity="0.45"/>
<path d="M288.66,400.46L289.46,399.66L290.26,400.46Z" fill="#3a2415" opacity="0.45"/>
<path d="M415.7,400.16H512" stroke="#999" stroke-width="0.5" opacity="0.3" stroke-dasharray="0.8,0.8"/>
<path d="M297.40,400.46L298.40,398.27L298.80,395.43L299.10,391.56L299.70,391.56L300.00,395.43L300.40,398.27L301.40,400.46Z" fill="#3a2415"/>
<path d="M306.62,400.46L307.30,398.96L307.90,398.96L308.58,400.46Z" fill="#3a2415"/>
<path d="M381.20,400.46L381.70,399.28L381.90,397.96L381.90,396.16L382.50,396.16L382.50,397.96L382.70,399.28L383.20,400.46Z" fill="#3a2415"/>
<path d="M389.90,400.46L390.50,398.62L390.74,396.31L390.80,393.16L391.40,393.16L391.46,396.31L391.70,398.62L392.30,400.46Z" fill="#3a2415"/>
<text x="419.50" y="395.84" font-size="7.0" fill="#333" textLength="43.40" lengthAdjust="spacingAndGlyphs" stroke="#333" stroke-width="0.18">hyperdiploid 9</text>
<text x="470.90" y="395.84" font-size="7.0" fill="#333" textLength="38.50" lengthAdjust="spacingAndGlyphs" stroke="#333" stroke-width="0.18">[0 - 6173.13]</text>
<path d="M269,413.23H415.7" stroke="#3ea6d6" stroke-width="0.75" opacity="0.25" stroke-dasharray="3.5,0.5,2.2,0.6,5,0.4,1.5,0.5"/>
<path d="M326.98,413.53L327.78,412.53L328.58,413.53Z" fill="#3ea6d6" opacity="0.25"/>
<path d="M281.70,413.53L282.50,412.53L283.30,413.53Z" fill="#3ea6d6" opacity="0.25"/>
<path d="M327.51,413.53L328.31,412.53L329.11,413.53Z" fill="#3ea6d6" opacity="0.25"/>
<path d="M396.26,413.53L397.06,412.53L397.86,413.53Z" fill="#3ea6d6" opacity="0.25"/>
<path d="M393.49,413.53L394.29,412.53L395.09,413.53Z" fill="#3ea6d6" opacity="0.25"/>
<path d="M371.00,413.53L371.80,412.53L372.60,413.53Z" fill="#3ea6d6" opacity="0.25"/>
<path d="M415.7,413.23H512" stroke="#999" stroke-width="0.5" opacity="0.3" stroke-dasharray="0.8,0.8"/>
<path d="M297.40,413.53L298.40,412.42L298.80,411.19L299.10,409.53L299.70,409.53L300.00,411.19L300.40,412.42L301.40,413.53Z" fill="#3ea6d6"/>
<text x="419.50" y="408.87" font-size="7.0" fill="#333" textLength="47.40" lengthAdjust="spacingAndGlyphs" stroke="#333" stroke-width="0.18">hyperdiploid 10</text>
<text x="470.90" y="408.87" font-size="7.0" fill="#333" textLength="38.50" lengthAdjust="spacingAndGlyphs" stroke="#333" stroke-width="0.18">[0 - 6173.13]</text>
<path d="M269,426.30H415.7" stroke="#b87a36" stroke-width="0.75" opacity="0.3" stroke-dasharray="3.5,0.5,2.2,0.6,5,0.4,1.5,0.5"/>
<path d="M367.62,426.60L368.42,425.60L369.22,426.60Z" fill="#b87a36" opacity="0.30"/>
<path d="M406.87,426.60L407.67,425.80L408.47,426.60Z" fill="#b87a36" opacity="0.30"/>
<path d="M282.04,426.60L282.84,425.80L283.64,426.60Z" fill="#b87a36" opacity="0.30"/>
<path d="M303.30,426.60L304.10,425.80L304.90,426.60Z" fill="#b87a36" opacity="0.30"/>
<path d="M271.92,426.60L272.72,425.40L273.52,426.60Z" fill="#b87a36" opacity="0.30"/>
<path d="M296.22,426.60L297.02,425.60L297.82,426.60Z" fill="#b87a36" opacity="0.30"/>
<path d="M415.7,426.30H512" stroke="#999" stroke-width="0.5" opacity="0.3" stroke-dasharray="0.8,0.8"/>
<path d="M297.40,426.60L298.40,425.35L298.80,423.94L299.10,422.00L299.70,422.00L300.00,423.94L300.40,425.35L301.40,426.60Z" fill="#b87a36"/>
<text x="419.50" y="421.90" font-size="7.0" fill="#333" textLength="47.40" lengthAdjust="spacingAndGlyphs" stroke="#333" stroke-width="0.18">hyperdiploid 11</text>
<text x="470.90" y="421.90" font-size="7.0" fill="#333" textLength="38.50" lengthAdjust="spacingAndGlyphs" stroke="#333" stroke-width="0.18">[0 - 6173.13]</text>
<text x="7.60" y="473.90" font-size="12.2" fill="#000" font-weight="bold">E</text>
<path d="M27.3,496.4H146.6M27.3,494.4V498.4M146.6,494.4V498.4" stroke="#333" stroke-width="1.1" fill="none"/>
<text x="76.90" y="493.30" font-size="7.4" fill="#333" textLength="19.90" lengthAdjust="spacingAndGlyphs" stroke="#333" stroke-width="0.18">100 kb</text>
<text x="94.20" y="506.80" font-size="8.4" fill="#222" textLength="36.40" lengthAdjust="spacingAndGlyphs" font-style="italic" stroke="#222" stroke-width="0.18">SAMD12</text>
<path d="M21.6,511.4H214.8" stroke="#444" stroke-width="0.7" stroke-dasharray="0.8,0.8"/>
<path d="M214.1,517.8H266.0" stroke="#444" stroke-width="0.7" stroke-dasharray="0.8,0.8"/>
<text x="219.50" y="514.50" font-size="8.1" fill="#222" textLength="47.10" lengthAdjust="spacingAndGlyphs" font-style="italic" stroke="#222" stroke-width="0.18">SAMD12-AS1</text>
<rect x="68.1" y="508.5" width="3.40" height="97.5" fill="#d8e1ed"/>
<rect x="98.8" y="508.5" width="3.20" height="97.5" fill="#d8e1ed"/>
<rect x="104.1" y="508.5" width="3.40" height="97.5" fill="#d8e1ed"/>
<rect x="143.5" y="508.5" width="8.30" height="97.5" fill="#d8e1ed"/>
<path d="M24.6,534.00H168" stroke="#7d9696" stroke-width="0.75" opacity="0.4" stroke-dasharray="3.5,0.5,2.2,0.6,5,0.4,1.5,0.5"/>
<path d="M26.37,534.30L27.17,533.30L27.97,534.30Z" fill="#7d9696" opacity="0.40"/>
<path d="M100.32,534.30L101.12,533.10L101.92,534.30Z" fill="#7d9696" opacity="0.40"/>
<path d="M104.75,534.30L105.55,533.50L106.35,534.30Z" fill="#7d9696" opacity="0.40"/>
<path d="M122.05,534.30L122.85,533.10L123.65,534.30Z" fill="#7d9696" opacity="0.40"/>
<path d="M158.26,534.30L159.06,533.10L159.86,534.30Z" fill="#7d9696" opacity="0.40"/>
<path d="M120.06,534.30L120.86,533.50L121.66,534.30Z" fill="#7d9696" opacity="0.40"/>
<path d="M168,534.00H265" stroke="#aaa" stroke-width="0.5" opacity="0.3" stroke-dasharray="0.8,0.8"/>
<text x="169.80" y="532.90" font-size="7.2" fill="#333" textLength="44.90" lengthAdjust="spacingAndGlyphs" stroke="#333" stroke-width="0.18">ETV6-RUNX1 1</text>
<text x="222.90" y="532.90" font-size="7.2" fill="#333" textLength="37.90" lengthAdjust="spacingAndGlyphs" stroke="#333" stroke-width="0.18">[0 - 8838.36]</text>
<path d="M24.6,548.25H168" stroke="#a8a0b0" stroke-width="0.75" opacity="0.4" stroke-dasharray="3.5,0.5,2.2,0.6,5,0.4,1.5,0.5"/>
<path d="M89.46,548.55L90.26,547.35L91.06,548.55Z" fill="#a8a0b0" opacity="0.40"/>
<path d="M137.02,548.55L137.82,547.55L138.62,548.55Z" fill="#a8a0b0" opacity="0.40"/>
<path d="M81.29,548.55L82.09,547.55L82.89,548.55Z" fill="#a8a0b0" opacity="0.40"/>
<path d="M40.23,548.55L41.03,547.35L41.83,548.55Z" fill="#a8a0b0" opacity="0.40"/>
<path d="M81.62,548.55L82.42,547.75L83.22,548.55Z" fill="#a8a0b0" opacity="0.40"/>
<path d="M35.19,548.55L35.99,547.75L36.79,548.55Z" fill="#a8a0b0" opacity="0.40"/>
<path d="M168,548.25H265" stroke="#aaa" stroke-width="0.5" opacity="0.3" stroke-dasharray="0.8,0.8"/>
<text x="169.80" y="545.95" font-size="7.2" fill="#333" textLength="44.90" lengthAdjust="spacingAndGlyphs" stroke="#333" stroke-width="0.18">ETV6-RUNX1 2</text>
<text x="222.90" y="545.95" font-size="7.2" fill="#333" textLength="37.90" lengthAdjust="spacingAndGlyphs" stroke="#333" stroke-width="0.18">[0 - 8838.36]</text>
<path d="M24.6,562.50H168" stroke="#a0a0a0" stroke-width="0.75" opacity="0.4" stroke-dasharray="3.5,0.5,2.2,0.6,5,0.4,1.5,0.5"/>
<path d="M87.22,562.80L88.02,562.00L88.82,562.80Z" fill="#a0a0a0" opacity="0.40"/>
<path d="M73.20,562.80L74.00,562.00L74.80,562.80Z" fill="#a0a0a0" opacity="0.40"/>
<path d="M40.07,562.80L40.87,561.60L41.67,562.80Z" fill="#a0a0a0" opacity="0.40"/>
<path d="M46.89,562.80L47.69,562.00L48.49,562.80Z" fill="#a0a0a0" opacity="0.40"/>
<path d="M158.08,562.80L158.88,561.60L159.68,562.80Z" fill="#a0a0a0" opacity="0.40"/>
<path d="M29.35,562.80L30.15,562.00L30.95,562.80Z" fill="#a0a0a0" opacity="0.40"/>
<path d="M168,562.50H265" stroke="#aaa" stroke-width="0.5" opacity="0.3" stroke-dasharray="0.8,0.8"/>
<text x="169.80" y="559.00" font-size="7.2" fill="#333" textLength="44.90" lengthAdjust="spacingAndGlyphs" stroke="#333" stroke-width="0.18">ETV6-RUNX1 3</text>
<text x="222.90" y="559.00" font-size="7.2" fill="#333" textLength="37.90" lengthAdjust="spacingAndGlyphs" stroke="#333" stroke-width="0.18">[0 - 8838.36]</text>
<path d="M24.6,576.75H168" stroke="#f0a040" stroke-width="0.75" opacity="0.4" stroke-dasharray="3.5,0.5,2.2,0.6,5,0.4,1.5,0.5"/>
<path d="M111.40,577.05L112.20,576.25L113.00,577.05Z" fill="#f0a040" opacity="0.40"/>
<path d="M114.24,577.05L115.04,576.05L115.84,577.05Z" fill="#f0a040" opacity="0.40"/>
<path d="M109.76,577.05L110.56,576.05L111.36,577.05Z" fill="#f0a040" opacity="0.40"/>
<path d="M42.92,577.05L43.72,576.05L44.52,577.05Z" fill="#f0a040" opacity="0.40"/>
<path d="M164.24,577.05L165.04,576.05L165.84,577.05Z" fill="#f0a040" opacity="0.40"/>
<path d="M92.77,577.05L93.57,576.05L94.37,577.05Z" fill="#f0a040" opacity="0.40"/>
<path d="M168,576.75H265" stroke="#aaa" stroke-width="0.5" opacity="0.3" stroke-dasharray="0.8,0.8"/>
<text x="169.80" y="572.05" font-size="7.2" fill="#333" textLength="44.90" lengthAdjust="spacingAndGlyphs" stroke="#333" stroke-width="0.18">ETV6-RUNX1 4</text>
<text x="222.90" y="572.05" font-size="7.2" fill="#333" textLength="37.90" lengthAdjust="spacingAndGlyphs" stroke="#333" stroke-width="0.18">[0 - 8838.36]</text>
<path d="M24.6,591.00H168" stroke="#4cb060" stroke-width="0.75" opacity="0.4" stroke-dasharray="3.5,0.5,2.2,0.6,5,0.4,1.5,0.5"/>
<path d="M37.77,591.30L38.57,590.50L39.37,591.30Z" fill="#4cb060" opacity="0.40"/>
<path d="M130.30,591.30L131.10,590.10L131.90,591.30Z" fill="#4cb060" opacity="0.40"/>
<path d="M62.71,591.30L63.51,590.10L64.31,591.30Z" fill="#4cb060" opacity="0.40"/>
<path d="M48.30,591.30L49.10,590.50L49.90,591.30Z" fill="#4cb060" opacity="0.40"/>
<path d="M54.41,591.30L55.21,590.10L56.01,591.30Z" fill="#4cb060" opacity="0.40"/>
<path d="M76.23,591.30L77.03,590.10L77.83,591.30Z" fill="#4cb060" opacity="0.40"/>
<path d="M168,591.00H265" stroke="#aaa" stroke-width="0.5" opacity="0.3" stroke-dasharray="0.8,0.8"/>
<text x="169.80" y="585.10" font-size="7.2" fill="#333" textLength="44.90" lengthAdjust="spacingAndGlyphs" stroke="#333" stroke-width="0.18">ETV6-RUNX1 5</text>
<text x="222.90" y="585.10" font-size="7.2" fill="#333" textLength="37.90" lengthAdjust="spacingAndGlyphs" stroke="#333" stroke-width="0.18">[0 - 8838.36]</text>
<path d="M24.6,605.25H168" stroke="#6d8d7d" stroke-width="0.75" opacity="0.4" stroke-dasharray="3.5,0.5,2.2,0.6,5,0.4,1.5,0.5"/>
<path d="M101.52,605.55L102.32,604.75L103.12,605.55Z" fill="#6d8d7d" opacity="0.40"/>
<path d="M131.49,605.55L132.29,604.55L133.09,605.55Z" fill="#6d8d7d" opacity="0.40"/>
<path d="M162.20,605.55L163.00,604.75L163.80,605.55Z" fill="#6d8d7d" opacity="0.40"/>
<path d="M122.85,605.55L123.65,604.55L124.45,605.55Z" fill="#6d8d7d" opacity="0.40"/>
<path d="M98.06,605.55L98.86,604.75L99.66,605.55Z" fill="#6d8d7d" opacity="0.40"/>
<path d="M75.38,605.55L76.18,604.75L76.98,605.55Z" fill="#6d8d7d" opacity="0.40"/>
<path d="M168,605.25H265" stroke="#aaa" stroke-width="0.5" opacity="0.3" stroke-dasharray="0.8,0.8"/>
<text x="169.80" y="598.15" font-size="7.2" fill="#333" textLength="44.90" lengthAdjust="spacingAndGlyphs" stroke="#333" stroke-width="0.18">ETV6-RUNX1 6</text>
<text x="222.90" y="598.15" font-size="7.2" fill="#333" textLength="37.90" lengthAdjust="spacingAndGlyphs" stroke="#333" stroke-width="0.18">[0 - 8838.36]</text>
<path d="M145.60,577.05L146.10,574.77L146.30,571.80L146.30,567.75L146.90,567.75L146.90,571.80L147.10,574.77L147.60,577.05Z" fill="#e8a040"/>
<path d="M148.80,577.05L149.30,575.65L149.50,574.00L149.50,571.75L150.10,571.75L150.10,574.00L150.30,575.65L150.80,577.05Z" fill="#e8a040"/>
<path d="M104.90,577.05L105.35,575.87L105.53,574.55L105.50,572.75L106.10,572.75L106.07,574.55L106.25,575.87L106.70,577.05Z" fill="#e8a040"/>
<path d="M99.94,577.05L100.20,574.75L100.80,574.75L101.06,577.05Z" fill="#e8a040"/>
<path d="M32.94,577.05L33.20,575.25L33.80,575.25L34.06,577.05Z" fill="#e8a040"/>
<path d="M68.24,577.05L68.50,575.55L69.10,575.55L69.36,577.05Z" fill="#e8a040"/>
<path d="M69.24,605.55L69.50,603.75L70.10,603.75L70.36,605.55Z" fill="#4a7a5a"/>
<path d="M146.14,605.55L146.40,603.75L147.00,603.75L147.26,605.55Z" fill="#4a7a5a"/>
<text x="267.90" y="473.70" font-size="12.2" fill="#000" font-weight="bold">F</text>
<path d="M289.3,485.8H401.0M289.3,483.8V487.8M401.0,483.8V487.8" stroke="#333" stroke-width="1.1" fill="none"/>
<text x="334.90" y="482.70" font-size="7.4" fill="#333" textLength="20.80" lengthAdjust="spacingAndGlyphs" stroke="#333" stroke-width="0.18">100 kb</text>
<text x="396.20" y="499.10" font-size="8.4" fill="#222" textLength="26.30" lengthAdjust="spacingAndGlyphs" font-style="italic" stroke="#222" stroke-width="0.18">MLLT3</text>
<path d="M289.2,502.0H511.9" stroke="#444" stroke-width="0.7" stroke-dasharray="0.8,0.8"/>
<circle cx="296.2" cy="502" r="0.9" fill="#222"/>
<rect x="399.2" y="503.5" width="3.9" height="102.5" fill="#d8e1ed"/>
<rect x="403.8" y="503.5" width="4.3" height="102.5" fill="#d8e1ed"/>
<path d="M289,518.00H415" stroke="#666666" stroke-width="0.75" opacity="0.4" stroke-dasharray="3.5,0.5,2.2,0.6,5,0.4,1.5,0.5"/>
<path d="M355.18,518.30L355.98,517.10L356.78,518.30Z" fill="#666666" opacity="0.40"/>
<path d="M330.42,518.30L331.22,517.50L332.02,518.30Z" fill="#666666" opacity="0.40"/>
<path d="M365.01,518.30L365.81,517.50L366.61,518.30Z" fill="#666666" opacity="0.40"/>
<path d="M388.54,518.30L389.34,517.30L390.14,518.30Z" fill="#666666" opacity="0.40"/>
<path d="M380.46,518.30L381.26,517.50L382.06,518.30Z" fill="#666666" opacity="0.40"/>
<path d="M415,518.00H512" stroke="#aaa" stroke-width="0.5" opacity="0.3" stroke-dasharray="0.8,0.8"/>
<text x="420.70" y="516.60" font-size="7.2" fill="#333" textLength="38.30" lengthAdjust="spacingAndGlyphs" stroke="#333" stroke-width="0.18">DUX4/ERG 1</text>
<text x="474.60" y="516.60" font-size="7.2" fill="#333" textLength="37.80" lengthAdjust="spacingAndGlyphs" stroke="#333" stroke-width="0.18">[0 - 6650.90]</text>
<path d="M289,532.42H415" stroke="#666666" stroke-width="0.75" opacity="0.4" stroke-dasharray="3.5,0.5,2.2,0.6,5,0.4,1.5,0.5"/>
<path d="M314.59,532.72L315.39,531.72L316.19,532.72Z" fill="#666666" opacity="0.40"/>
<path d="M333.58,532.72L334.38,531.92L335.18,532.72Z" fill="#666666" opacity="0.40"/>
<path d="M410.93,532.72L411.73,531.72L412.53,532.72Z" fill="#666666" opacity="0.40"/>
<path d="M347.81,532.72L348.61,531.92L349.41,532.72Z" fill="#666666" opacity="0.40"/>
<path d="M374.69,532.72L375.49,531.72L376.29,532.72Z" fill="#666666" opacity="0.40"/>
<path d="M415,532.42H512" stroke="#aaa" stroke-width="0.5" opacity="0.3" stroke-dasharray="0.8,0.8"/>
<text x="420.70" y="530.20" font-size="7.2" fill="#333" textLength="38.30" lengthAdjust="spacingAndGlyphs" stroke="#333" stroke-width="0.18">DUX4/ERG 2</text>
<text x="474.60" y="530.20" font-size="7.2" fill="#333" textLength="37.80" lengthAdjust="spacingAndGlyphs" stroke="#333" stroke-width="0.18">[0 - 6650.90]</text>
<path d="M289,546.84H415" stroke="#e0b0b0" stroke-width="0.75" opacity="0.4" stroke-dasharray="3.5,0.5,2.2,0.6,5,0.4,1.5,0.5"/>
<path d="M344.76,547.14L345.56,545.94L346.36,547.14Z" fill="#e0b0b0" opacity="0.40"/>
<path d="M410.74,547.14L411.54,546.14L412.34,547.14Z" fill="#e0b0b0" opacity="0.40"/>
<path d="M300.03,547.14L300.83,546.34L301.63,547.14Z" fill="#e0b0b0" opacity="0.40"/>
<path d="M317.88,547.14L318.68,546.34L319.48,547.14Z" fill="#e0b0b0" opacity="0.40"/>
<path d="M331.40,547.14L332.20,546.14L333.00,547.14Z" fill="#e0b0b0" opacity="0.40"/>
<path d="M415,546.84H512" stroke="#aaa" stroke-width="0.5" opacity="0.3" stroke-dasharray="0.8,0.8"/>
<text x="420.70" y="543.80" font-size="7.2" fill="#333" textLength="38.30" lengthAdjust="spacingAndGlyphs" stroke="#333" stroke-width="0.18">DUX4/ERG 3</text>
<text x="474.60" y="543.80" font-size="7.2" fill="#333" textLength="37.80" lengthAdjust="spacingAndGlyphs" stroke="#333" stroke-width="0.18">[0 - 6650.90]</text>
<path d="M289,561.26H415" stroke="#f0a040" stroke-width="0.75" opacity="0.4" stroke-dasharray="3.5,0.5,2.2,0.6,5,0.4,1.5,0.5"/>
<path d="M366.34,561.56L367.14,560.36L367.94,561.56Z" fill="#f0a040" opacity="0.40"/>
<path d="M392.73,561.56L393.53,560.56L394.33,561.56Z" fill="#f0a040" opacity="0.40"/>
<path d="M401.12,561.56L401.92,560.56L402.72,561.56Z" fill="#f0a040" opacity="0.40"/>
<path d="M387.76,561.56L388.56,560.76L389.36,561.56Z" fill="#f0a040" opacity="0.40"/>
<path d="M392.03,561.56L392.83,560.76L393.63,561.56Z" fill="#f0a040" opacity="0.40"/>
<path d="M415,561.26H512" stroke="#aaa" stroke-width="0.5" opacity="0.3" stroke-dasharray="0.8,0.8"/>
<text x="420.70" y="557.40" font-size="7.2" fill="#333" textLength="38.30" lengthAdjust="spacingAndGlyphs" stroke="#333" stroke-width="0.18">DUX4/ERG 4</text>
<text x="474.60" y="557.40" font-size="7.2" fill="#333" textLength="37.80" lengthAdjust="spacingAndGlyphs" stroke="#333" stroke-width="0.18">[0 - 6650.90]</text>
<path d="M289,575.68H415" stroke="#a0d0c0" stroke-width="0.75" opacity="0.4" stroke-dasharray="3.5,0.5,2.2,0.6,5,0.4,1.5,0.5"/>
<path d="M401.19,575.98L401.99,574.78L402.79,575.98Z" fill="#a0d0c0" opacity="0.40"/>
<path d="M381.72,575.98L382.52,574.98L383.32,575.98Z" fill="#a0d0c0" opacity="0.40"/>
<path d="M398.66,575.98L399.46,574.98L400.26,575.98Z" fill="#a0d0c0" opacity="0.40"/>
<path d="M386.47,575.98L387.27,574.98L388.07,575.98Z" fill="#a0d0c0" opacity="0.40"/>
<path d="M300.78,575.98L301.58,574.78L302.38,575.98Z" fill="#a0d0c0" opacity="0.40"/>
<path d="M415,575.68H512" stroke="#aaa" stroke-width="0.5" opacity="0.3" stroke-dasharray="0.8,0.8"/>
<text x="420.70" y="571.00" font-size="7.2" fill="#333" textLength="38.30" lengthAdjust="spacingAndGlyphs" stroke="#333" stroke-width="0.18">DUX4/ERG 5</text>
<text x="474.60" y="571.00" font-size="7.2" fill="#333" textLength="37.80" lengthAdjust="spacingAndGlyphs" stroke="#333" stroke-width="0.18">[0 - 6650.90]</text>
<path d="M289,590.10H415" stroke="#c0b0e0" stroke-width="0.75" opacity="0.4" stroke-dasharray="3.5,0.5,2.2,0.6,5,0.4,1.5,0.5"/>
<path d="M338.49,590.40L339.29,589.40L340.09,590.40Z" fill="#c0b0e0" opacity="0.40"/>
<path d="M380.89,590.40L381.69,589.60L382.49,590.40Z" fill="#c0b0e0" opacity="0.40"/>
<path d="M378.63,590.40L379.43,589.60L380.23,590.40Z" fill="#c0b0e0" opacity="0.40"/>
<path d="M411.36,590.40L412.16,589.60L412.96,590.40Z" fill="#c0b0e0" opacity="0.40"/>
<path d="M308.64,590.40L309.44,589.40L310.24,590.40Z" fill="#c0b0e0" opacity="0.40"/>
<path d="M415,590.10H512" stroke="#aaa" stroke-width="0.5" opacity="0.3" stroke-dasharray="0.8,0.8"/>
<text x="420.70" y="584.60" font-size="7.2" fill="#333" textLength="38.30" lengthAdjust="spacingAndGlyphs" stroke="#333" stroke-width="0.18">DUX4/ERG 6</text>
<text x="474.60" y="584.60" font-size="7.2" fill="#333" textLength="37.80" lengthAdjust="spacingAndGlyphs" stroke="#333" stroke-width="0.18">[0 - 6650.90]</text>
<path d="M289,604.52H415" stroke="#f0b0c0" stroke-width="0.75" opacity="0.4" stroke-dasharray="3.5,0.5,2.2,0.6,5,0.4,1.5,0.5"/>
<path d="M388.59,604.82L389.39,604.02L390.19,604.82Z" fill="#f0b0c0" opacity="0.40"/>
<path d="M364.81,604.82L365.61,603.62L366.41,604.82Z" fill="#f0b0c0" opacity="0.40"/>
<path d="M409.80,604.82L410.60,603.62L411.40,604.82Z" fill="#f0b0c0" opacity="0.40"/>
<path d="M404.57,604.82L405.37,604.02L406.17,604.82Z" fill="#f0b0c0" opacity="0.40"/>
<path d="M357.14,604.82L357.94,604.02L358.74,604.82Z" fill="#f0b0c0" opacity="0.40"/>
<path d="M415,604.52H512" stroke="#aaa" stroke-width="0.5" opacity="0.3" stroke-dasharray="0.8,0.8"/>
<text x="420.70" y="598.20" font-size="7.2" fill="#333" textLength="38.30" lengthAdjust="spacingAndGlyphs" stroke="#333" stroke-width="0.18">DUX4/ERG 6</text>
<text x="474.60" y="598.20" font-size="7.2" fill="#333" textLength="37.80" lengthAdjust="spacingAndGlyphs" stroke="#333" stroke-width="0.18">[0 - 6650.90]</text>
<path d="M399.80,518.30L400.20,517.12L400.36,515.80L400.30,514.00L400.90,514.00L400.84,515.80L401.00,517.12L401.40,518.30Z" fill="#444"/>
<path d="M405.04,518.30L405.30,516.00L405.90,516.00L406.16,518.30Z" fill="#444"/>
<path d="M399.80,532.70L400.20,531.52L400.36,530.20L400.30,528.40L400.90,528.40L400.84,530.20L401.00,531.52L401.40,532.70Z" fill="#444"/>
<path d="M405.04,532.70L405.30,531.40L405.90,531.40L406.16,532.70Z" fill="#444"/>
<path d="M399.70,561.60L400.15,559.98L400.33,558.00L400.30,555.30L400.90,555.30L400.87,558.00L401.05,559.98L401.50,561.60Z" fill="#e8a040"/>
<path d="M403.00,561.60L403.40,560.64L403.56,559.65L403.50,558.30L404.10,558.30L404.04,559.65L404.20,560.64L404.60,561.60Z" fill="#e8a040"/>
<rect x="0.5" y="0.5" width="519" height="614" fill="none" stroke="#555" stroke-width="1"/>
</svg></body></html>
